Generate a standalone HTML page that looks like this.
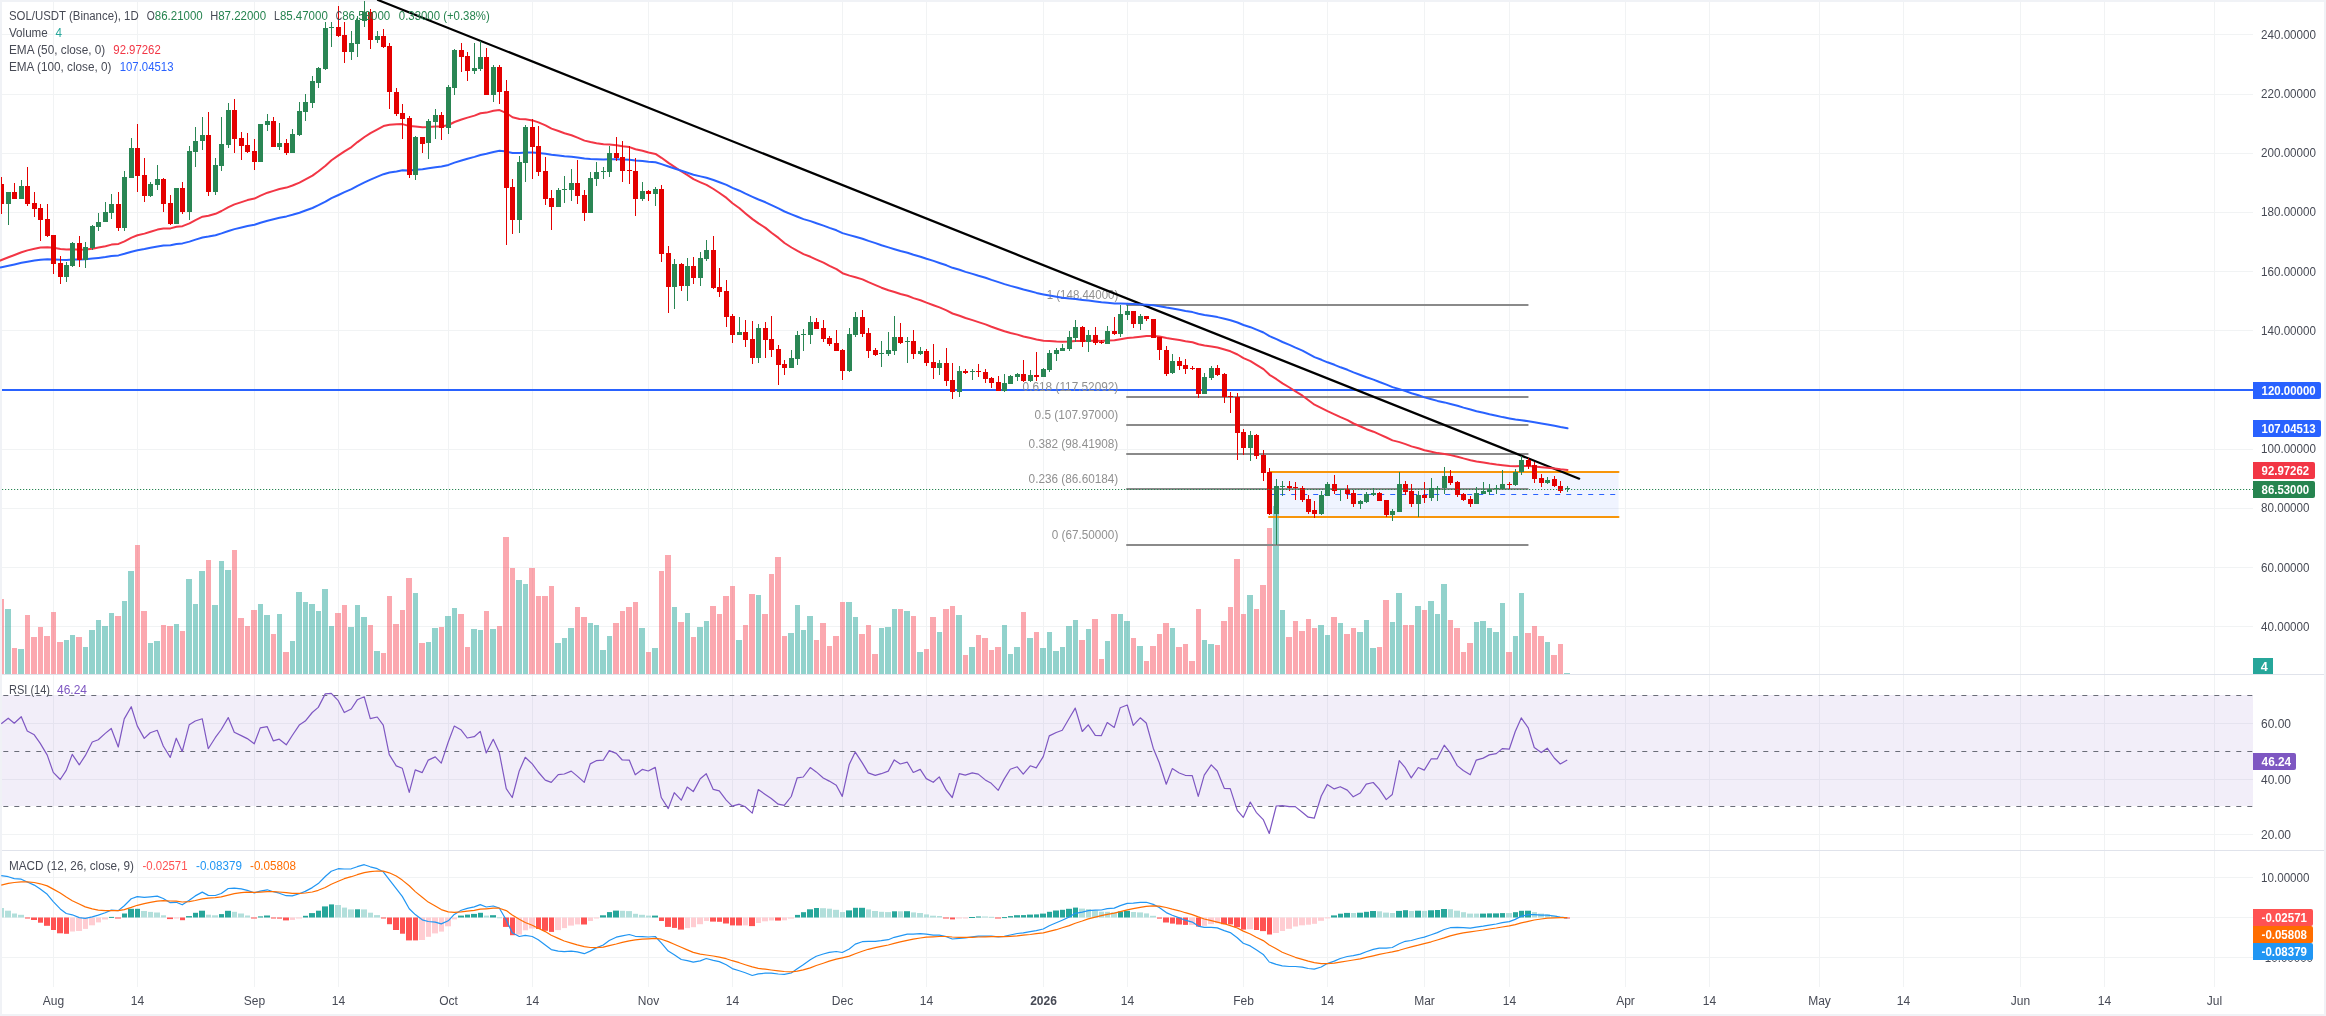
<!DOCTYPE html>
<html><head><meta charset="utf-8"><title>SOL/USDT</title>
<style>html,body{margin:0;padding:0;background:#fff;overflow:hidden}svg{will-change:transform}svg text{white-space:pre}</style></head>
<body>
<svg width="2326" height="1016" viewBox="0 0 2326 1016" style="display:block" font-family="'Liberation Sans', sans-serif" font-size="12">
<rect width="2326" height="1016" fill="#f0f2f6"/>
<rect x="2" y="2" width="2322" height="1012" fill="#fff"/>
<g fill="#f1f3f4"><rect x="53" y="2" width="1" height="985"/><rect x="137" y="2" width="1" height="985"/><rect x="254" y="2" width="1" height="985"/><rect x="338" y="2" width="1" height="985"/><rect x="448" y="2" width="1" height="985"/><rect x="532" y="2" width="1" height="985"/><rect x="648" y="2" width="1" height="985"/><rect x="732" y="2" width="1" height="985"/><rect x="842" y="2" width="1" height="985"/><rect x="926" y="2" width="1" height="985"/><rect x="1043" y="2" width="1" height="985"/><rect x="1127" y="2" width="1" height="985"/><rect x="1243" y="2" width="1" height="985"/><rect x="1327" y="2" width="1" height="985"/><rect x="1424" y="2" width="1" height="985"/><rect x="1509" y="2" width="1" height="985"/><rect x="1625" y="2" width="1" height="985"/><rect x="1709" y="2" width="1" height="985"/><rect x="1819" y="2" width="1" height="985"/><rect x="1903" y="2" width="1" height="985"/><rect x="2020" y="2" width="1" height="985"/><rect x="2104" y="2" width="1" height="985"/><rect x="2214" y="2" width="1" height="985"/><rect x="2" y="34" width="2251" height="1"/><rect x="2" y="94" width="2251" height="1"/><rect x="2" y="153" width="2251" height="1"/><rect x="2" y="212" width="2251" height="1"/><rect x="2" y="271" width="2251" height="1"/><rect x="2" y="330" width="2251" height="1"/><rect x="2" y="390" width="2251" height="1"/><rect x="2" y="449" width="2251" height="1"/><rect x="2" y="508" width="2251" height="1"/><rect x="2" y="567" width="2251" height="1"/><rect x="2" y="626" width="2251" height="1"/><rect x="2" y="723" width="2251" height="1"/><rect x="2" y="779" width="2251" height="1"/><rect x="2" y="834" width="2251" height="1"/><rect x="2" y="877" width="2251" height="1"/><rect x="2" y="917" width="2251" height="1"/><rect x="2" y="957" width="2251" height="1"/></g>
<rect x="2" y="674" width="2322" height="1" fill="#e0e3eb"/>
<rect x="2" y="850" width="2322" height="1" fill="#e0e3eb"/>
<g fill-opacity="0.5"><rect x="2" y="599" width="2" height="75" fill="#f7525f"/><rect x="5" y="609" width="6" height="65" fill="#26a69a"/><rect x="12" y="648" width="5" height="26" fill="#f7525f"/><rect x="18" y="649" width="6" height="25" fill="#26a69a"/><rect x="25" y="615" width="5" height="59" fill="#f7525f"/><rect x="31" y="637" width="6" height="37" fill="#f7525f"/><rect x="38" y="627" width="5" height="47" fill="#f7525f"/><rect x="44" y="636" width="6" height="38" fill="#f7525f"/><rect x="51" y="612" width="5" height="62" fill="#f7525f"/><rect x="57" y="642" width="6" height="32" fill="#f7525f"/><rect x="64" y="640" width="5" height="34" fill="#26a69a"/><rect x="70" y="635" width="5" height="39" fill="#26a69a"/><rect x="76" y="637" width="6" height="37" fill="#f7525f"/><rect x="83" y="647" width="5" height="27" fill="#26a69a"/><rect x="89" y="630" width="6" height="44" fill="#26a69a"/><rect x="96" y="620" width="5" height="54" fill="#26a69a"/><rect x="102" y="626" width="6" height="48" fill="#26a69a"/><rect x="109" y="613" width="5" height="61" fill="#26a69a"/><rect x="115" y="616" width="6" height="58" fill="#f7525f"/><rect x="122" y="601" width="5" height="73" fill="#26a69a"/><rect x="128" y="571" width="6" height="103" fill="#26a69a"/><rect x="135" y="545" width="5" height="129" fill="#f7525f"/><rect x="141" y="611" width="6" height="63" fill="#f7525f"/><rect x="148" y="643" width="5" height="31" fill="#26a69a"/><rect x="154" y="641" width="6" height="33" fill="#26a69a"/><rect x="161" y="625" width="5" height="49" fill="#f7525f"/><rect x="167" y="626" width="6" height="48" fill="#f7525f"/><rect x="174" y="624" width="5" height="50" fill="#26a69a"/><rect x="180" y="631" width="5" height="43" fill="#f7525f"/><rect x="186" y="579" width="6" height="95" fill="#26a69a"/><rect x="193" y="604" width="5" height="70" fill="#26a69a"/><rect x="199" y="571" width="6" height="103" fill="#26a69a"/><rect x="206" y="560" width="5" height="114" fill="#f7525f"/><rect x="212" y="605" width="6" height="69" fill="#26a69a"/><rect x="219" y="561" width="5" height="113" fill="#26a69a"/><rect x="225" y="570" width="6" height="104" fill="#26a69a"/><rect x="232" y="550" width="5" height="124" fill="#f7525f"/><rect x="238" y="618" width="6" height="56" fill="#f7525f"/><rect x="245" y="626" width="5" height="48" fill="#f7525f"/><rect x="251" y="610" width="6" height="64" fill="#f7525f"/><rect x="258" y="604" width="5" height="70" fill="#26a69a"/><rect x="264" y="615" width="6" height="59" fill="#26a69a"/><rect x="271" y="634" width="5" height="40" fill="#f7525f"/><rect x="277" y="614" width="5" height="60" fill="#26a69a"/><rect x="283" y="652" width="6" height="22" fill="#f7525f"/><rect x="290" y="641" width="5" height="33" fill="#26a69a"/><rect x="296" y="592" width="6" height="82" fill="#26a69a"/><rect x="303" y="602" width="5" height="72" fill="#26a69a"/><rect x="309" y="604" width="6" height="70" fill="#26a69a"/><rect x="316" y="611" width="5" height="63" fill="#26a69a"/><rect x="322" y="589" width="6" height="85" fill="#26a69a"/><rect x="329" y="626" width="5" height="48" fill="#26a69a"/><rect x="335" y="613" width="6" height="61" fill="#f7525f"/><rect x="342" y="605" width="5" height="69" fill="#f7525f"/><rect x="348" y="627" width="6" height="47" fill="#26a69a"/><rect x="355" y="605" width="5" height="69" fill="#26a69a"/><rect x="361" y="617" width="6" height="57" fill="#26a69a"/><rect x="368" y="625" width="5" height="49" fill="#f7525f"/><rect x="374" y="651" width="6" height="23" fill="#26a69a"/><rect x="381" y="653" width="5" height="21" fill="#f7525f"/><rect x="387" y="596" width="5" height="78" fill="#f7525f"/><rect x="393" y="624" width="6" height="50" fill="#f7525f"/><rect x="400" y="610" width="5" height="64" fill="#f7525f"/><rect x="406" y="578" width="6" height="96" fill="#f7525f"/><rect x="413" y="593" width="5" height="81" fill="#26a69a"/><rect x="419" y="643" width="6" height="31" fill="#f7525f"/><rect x="426" y="642" width="5" height="32" fill="#26a69a"/><rect x="432" y="628" width="6" height="46" fill="#26a69a"/><rect x="439" y="627" width="5" height="47" fill="#f7525f"/><rect x="445" y="616" width="6" height="58" fill="#26a69a"/><rect x="452" y="608" width="5" height="66" fill="#26a69a"/><rect x="458" y="614" width="6" height="60" fill="#f7525f"/><rect x="465" y="647" width="5" height="27" fill="#f7525f"/><rect x="471" y="629" width="6" height="45" fill="#26a69a"/><rect x="478" y="630" width="5" height="44" fill="#26a69a"/><rect x="484" y="611" width="5" height="63" fill="#f7525f"/><rect x="490" y="629" width="6" height="45" fill="#26a69a"/><rect x="497" y="626" width="5" height="48" fill="#f7525f"/><rect x="503" y="537" width="6" height="137" fill="#f7525f"/><rect x="510" y="568" width="5" height="106" fill="#f7525f"/><rect x="516" y="580" width="6" height="94" fill="#26a69a"/><rect x="523" y="584" width="5" height="90" fill="#26a69a"/><rect x="529" y="568" width="6" height="106" fill="#f7525f"/><rect x="536" y="596" width="5" height="78" fill="#f7525f"/><rect x="542" y="596" width="6" height="78" fill="#f7525f"/><rect x="549" y="586" width="5" height="88" fill="#f7525f"/><rect x="555" y="643" width="6" height="31" fill="#26a69a"/><rect x="562" y="638" width="5" height="36" fill="#26a69a"/><rect x="568" y="628" width="6" height="46" fill="#26a69a"/><rect x="575" y="607" width="5" height="67" fill="#f7525f"/><rect x="581" y="617" width="6" height="57" fill="#f7525f"/><rect x="588" y="623" width="5" height="51" fill="#26a69a"/><rect x="594" y="625" width="5" height="49" fill="#26a69a"/><rect x="600" y="650" width="6" height="24" fill="#26a69a"/><rect x="607" y="636" width="5" height="38" fill="#26a69a"/><rect x="613" y="623" width="6" height="51" fill="#f7525f"/><rect x="620" y="611" width="5" height="63" fill="#f7525f"/><rect x="626" y="607" width="6" height="67" fill="#f7525f"/><rect x="633" y="602" width="5" height="72" fill="#f7525f"/><rect x="639" y="628" width="6" height="46" fill="#26a69a"/><rect x="646" y="652" width="5" height="22" fill="#f7525f"/><rect x="652" y="648" width="6" height="26" fill="#26a69a"/><rect x="659" y="571" width="5" height="103" fill="#f7525f"/><rect x="665" y="555" width="6" height="119" fill="#f7525f"/><rect x="672" y="607" width="5" height="67" fill="#26a69a"/><rect x="678" y="622" width="6" height="52" fill="#f7525f"/><rect x="685" y="613" width="5" height="61" fill="#26a69a"/><rect x="691" y="637" width="5" height="37" fill="#f7525f"/><rect x="697" y="627" width="6" height="47" fill="#26a69a"/><rect x="704" y="621" width="5" height="53" fill="#26a69a"/><rect x="710" y="606" width="6" height="68" fill="#f7525f"/><rect x="717" y="614" width="5" height="60" fill="#f7525f"/><rect x="723" y="596" width="6" height="78" fill="#f7525f"/><rect x="730" y="586" width="5" height="88" fill="#f7525f"/><rect x="736" y="640" width="6" height="34" fill="#26a69a"/><rect x="743" y="625" width="5" height="49" fill="#f7525f"/><rect x="749" y="594" width="6" height="80" fill="#f7525f"/><rect x="756" y="595" width="5" height="79" fill="#26a69a"/><rect x="762" y="614" width="6" height="60" fill="#f7525f"/><rect x="769" y="574" width="5" height="100" fill="#f7525f"/><rect x="775" y="557" width="6" height="117" fill="#f7525f"/><rect x="782" y="636" width="5" height="38" fill="#f7525f"/><rect x="788" y="633" width="6" height="41" fill="#26a69a"/><rect x="795" y="605" width="5" height="69" fill="#26a69a"/><rect x="801" y="630" width="5" height="44" fill="#26a69a"/><rect x="807" y="616" width="6" height="58" fill="#26a69a"/><rect x="814" y="640" width="5" height="34" fill="#f7525f"/><rect x="820" y="623" width="6" height="51" fill="#f7525f"/><rect x="827" y="646" width="5" height="28" fill="#f7525f"/><rect x="833" y="636" width="6" height="38" fill="#f7525f"/><rect x="840" y="602" width="5" height="72" fill="#f7525f"/><rect x="846" y="602" width="6" height="72" fill="#26a69a"/><rect x="853" y="617" width="5" height="57" fill="#26a69a"/><rect x="859" y="634" width="6" height="40" fill="#f7525f"/><rect x="866" y="625" width="5" height="49" fill="#f7525f"/><rect x="872" y="654" width="6" height="20" fill="#f7525f"/><rect x="879" y="628" width="5" height="46" fill="#26a69a"/><rect x="885" y="627" width="6" height="47" fill="#26a69a"/><rect x="892" y="609" width="5" height="65" fill="#26a69a"/><rect x="898" y="609" width="5" height="65" fill="#f7525f"/><rect x="904" y="611" width="6" height="63" fill="#26a69a"/><rect x="911" y="616" width="5" height="58" fill="#f7525f"/><rect x="917" y="652" width="6" height="22" fill="#26a69a"/><rect x="924" y="649" width="5" height="25" fill="#f7525f"/><rect x="930" y="617" width="6" height="57" fill="#f7525f"/><rect x="937" y="632" width="5" height="42" fill="#26a69a"/><rect x="943" y="609" width="6" height="65" fill="#f7525f"/><rect x="950" y="606" width="5" height="68" fill="#f7525f"/><rect x="956" y="615" width="6" height="59" fill="#26a69a"/><rect x="963" y="655" width="5" height="19" fill="#f7525f"/><rect x="969" y="647" width="6" height="27" fill="#26a69a"/><rect x="976" y="635" width="5" height="39" fill="#f7525f"/><rect x="982" y="638" width="6" height="36" fill="#f7525f"/><rect x="989" y="650" width="5" height="24" fill="#f7525f"/><rect x="995" y="647" width="6" height="27" fill="#f7525f"/><rect x="1002" y="625" width="5" height="49" fill="#26a69a"/><rect x="1008" y="654" width="5" height="20" fill="#26a69a"/><rect x="1014" y="647" width="6" height="27" fill="#26a69a"/><rect x="1021" y="612" width="5" height="62" fill="#f7525f"/><rect x="1027" y="638" width="6" height="36" fill="#26a69a"/><rect x="1034" y="632" width="5" height="42" fill="#f7525f"/><rect x="1040" y="648" width="6" height="26" fill="#26a69a"/><rect x="1047" y="632" width="5" height="42" fill="#26a69a"/><rect x="1053" y="651" width="6" height="23" fill="#26a69a"/><rect x="1060" y="647" width="5" height="27" fill="#26a69a"/><rect x="1066" y="626" width="6" height="48" fill="#26a69a"/><rect x="1073" y="620" width="5" height="54" fill="#26a69a"/><rect x="1079" y="640" width="6" height="34" fill="#f7525f"/><rect x="1086" y="629" width="5" height="45" fill="#26a69a"/><rect x="1092" y="619" width="6" height="55" fill="#f7525f"/><rect x="1099" y="659" width="5" height="15" fill="#f7525f"/><rect x="1105" y="641" width="5" height="33" fill="#26a69a"/><rect x="1111" y="614" width="6" height="60" fill="#f7525f"/><rect x="1118" y="614" width="5" height="60" fill="#26a69a"/><rect x="1124" y="621" width="6" height="53" fill="#26a69a"/><rect x="1131" y="638" width="5" height="36" fill="#f7525f"/><rect x="1137" y="646" width="6" height="28" fill="#26a69a"/><rect x="1144" y="661" width="5" height="13" fill="#f7525f"/><rect x="1150" y="646" width="6" height="28" fill="#f7525f"/><rect x="1157" y="634" width="5" height="40" fill="#f7525f"/><rect x="1163" y="623" width="6" height="51" fill="#f7525f"/><rect x="1170" y="628" width="5" height="46" fill="#26a69a"/><rect x="1176" y="647" width="6" height="27" fill="#f7525f"/><rect x="1183" y="644" width="5" height="30" fill="#f7525f"/><rect x="1189" y="661" width="6" height="13" fill="#f7525f"/><rect x="1196" y="609" width="5" height="65" fill="#f7525f"/><rect x="1202" y="640" width="5" height="34" fill="#26a69a"/><rect x="1208" y="644" width="6" height="30" fill="#26a69a"/><rect x="1215" y="645" width="5" height="29" fill="#f7525f"/><rect x="1221" y="621" width="6" height="53" fill="#f7525f"/><rect x="1228" y="607" width="5" height="67" fill="#f7525f"/><rect x="1234" y="559" width="6" height="115" fill="#f7525f"/><rect x="1241" y="614" width="5" height="60" fill="#f7525f"/><rect x="1247" y="595" width="6" height="79" fill="#26a69a"/><rect x="1254" y="609" width="5" height="65" fill="#f7525f"/><rect x="1260" y="585" width="6" height="89" fill="#f7525f"/><rect x="1267" y="528" width="5" height="146" fill="#f7525f"/><rect x="1273" y="506" width="6" height="168" fill="#26a69a"/><rect x="1280" y="610" width="5" height="64" fill="#26a69a"/><rect x="1286" y="637" width="6" height="37" fill="#f7525f"/><rect x="1293" y="621" width="5" height="53" fill="#f7525f"/><rect x="1299" y="631" width="6" height="43" fill="#f7525f"/><rect x="1306" y="619" width="5" height="55" fill="#f7525f"/><rect x="1312" y="628" width="5" height="46" fill="#f7525f"/><rect x="1318" y="625" width="6" height="49" fill="#26a69a"/><rect x="1325" y="635" width="5" height="39" fill="#26a69a"/><rect x="1331" y="617" width="6" height="57" fill="#f7525f"/><rect x="1338" y="623" width="5" height="51" fill="#26a69a"/><rect x="1344" y="634" width="6" height="40" fill="#f7525f"/><rect x="1351" y="628" width="5" height="46" fill="#f7525f"/><rect x="1357" y="632" width="6" height="42" fill="#26a69a"/><rect x="1364" y="620" width="5" height="54" fill="#26a69a"/><rect x="1370" y="648" width="6" height="26" fill="#26a69a"/><rect x="1377" y="647" width="5" height="27" fill="#f7525f"/><rect x="1383" y="600" width="6" height="74" fill="#f7525f"/><rect x="1390" y="622" width="5" height="52" fill="#26a69a"/><rect x="1396" y="593" width="6" height="81" fill="#26a69a"/><rect x="1403" y="625" width="5" height="49" fill="#f7525f"/><rect x="1409" y="625" width="5" height="49" fill="#f7525f"/><rect x="1415" y="606" width="6" height="68" fill="#26a69a"/><rect x="1422" y="610" width="5" height="64" fill="#f7525f"/><rect x="1428" y="601" width="6" height="73" fill="#26a69a"/><rect x="1435" y="614" width="5" height="60" fill="#26a69a"/><rect x="1441" y="584" width="6" height="90" fill="#26a69a"/><rect x="1448" y="620" width="5" height="54" fill="#f7525f"/><rect x="1454" y="628" width="6" height="46" fill="#f7525f"/><rect x="1461" y="652" width="5" height="22" fill="#f7525f"/><rect x="1467" y="643" width="6" height="31" fill="#f7525f"/><rect x="1474" y="622" width="5" height="52" fill="#26a69a"/><rect x="1480" y="621" width="6" height="53" fill="#26a69a"/><rect x="1487" y="628" width="5" height="46" fill="#26a69a"/><rect x="1493" y="632" width="6" height="42" fill="#26a69a"/><rect x="1500" y="603" width="5" height="71" fill="#26a69a"/><rect x="1506" y="652" width="6" height="22" fill="#f7525f"/><rect x="1513" y="636" width="5" height="38" fill="#26a69a"/><rect x="1519" y="593" width="5" height="81" fill="#26a69a"/><rect x="1525" y="633" width="6" height="41" fill="#f7525f"/><rect x="1532" y="626" width="5" height="48" fill="#f7525f"/><rect x="1538" y="636" width="6" height="38" fill="#f7525f"/><rect x="1545" y="642" width="5" height="32" fill="#26a69a"/><rect x="1551" y="655" width="6" height="19" fill="#f7525f"/><rect x="1558" y="644" width="5" height="30" fill="#f7525f"/><rect x="1564" y="673" width="6" height="1" fill="#26a69a"/></g>
<rect x="1270" y="472" width="348.6" height="45" fill="#2962ff" fill-opacity="0.07"/>
<line x1="1270" y1="472.1" x2="1618.5" y2="472.1" stroke="#f7950a" stroke-width="2" stroke-linecap="round"/>
<line x1="1269" y1="517" x2="1618.5" y2="517" stroke="#f7950a" stroke-width="2" stroke-linecap="round"/>
<line x1="1269.2" y1="494.5" x2="1619" y2="494.5" stroke="#2962ff" stroke-width="1.2" stroke-dasharray="5 6"/>
<rect x="2" y="389" width="2251" height="2" fill="#2962ff"/>
<line x1="1127" y1="305.0" x2="1527.7" y2="305.0" stroke="#8a8a8a" stroke-width="2" stroke-linecap="round"/>
<line x1="1127" y1="397.0" x2="1527.7" y2="397.0" stroke="#8a8a8a" stroke-width="2" stroke-linecap="round"/>
<line x1="1127" y1="425.0" x2="1527.7" y2="425.0" stroke="#8a8a8a" stroke-width="2" stroke-linecap="round"/>
<line x1="1127" y1="454.0" x2="1527.7" y2="454.0" stroke="#8a8a8a" stroke-width="2" stroke-linecap="round"/>
<line x1="1127" y1="489.0" x2="1527.7" y2="489.0" stroke="#8a8a8a" stroke-width="2" stroke-linecap="round"/>
<line x1="1127" y1="545.0" x2="1527.7" y2="545.0" stroke="#8a8a8a" stroke-width="2" stroke-linecap="round"/>
<text x="1046.7" y="298.7" fill="#909090" textLength="71.6" lengthAdjust="spacingAndGlyphs">1 (148.44000)</text>
<text x="1022.6" y="390.7" fill="#909090" textLength="95.7" lengthAdjust="spacingAndGlyphs">0.618 (117.52092)</text>
<text x="1034.6" y="418.7" fill="#909090" textLength="83.7" lengthAdjust="spacingAndGlyphs">0.5 (107.97000)</text>
<text x="1028.6" y="447.7" fill="#909090" textLength="89.7" lengthAdjust="spacingAndGlyphs">0.382 (98.41908)</text>
<text x="1028.6" y="482.7" fill="#909090" textLength="89.7" lengthAdjust="spacingAndGlyphs">0.236 (86.60184)</text>
<text x="1051.8" y="538.7" fill="#909090" textLength="66.5" lengthAdjust="spacingAndGlyphs">0 (67.50000)</text>
<line x1="378.0" y1="0" x2="1579.2" y2="478.65" stroke="#000" stroke-width="2.2" stroke-linecap="round"/>
<polyline points="-5.0,262.6 1.5,260.0 8.5,257.3 14.5,255.0 21.5,252.3 27.5,250.4 34.5,248.8 40.5,247.6 47.5,247.2 53.5,247.8 60.5,248.9 66.5,249.6 72.5,249.3 79.5,249.7 85.5,249.6 92.5,248.7 98.5,247.6 105.5,246.2 111.5,244.6 118.5,243.9 124.5,241.3 131.5,237.6 137.5,235.2 144.5,233.6 150.5,231.7 157.5,229.6 163.5,228.6 170.5,228.4 176.5,226.8 182.5,226.2 189.5,223.3 195.5,220.1 202.5,216.7 208.5,215.7 215.5,213.8 221.5,211.0 228.5,207.1 234.5,204.4 241.5,202.1 247.5,200.1 254.5,198.6 260.5,195.6 267.5,192.7 273.5,190.9 279.5,189.0 286.5,187.6 292.5,185.5 299.5,182.6 305.5,179.4 312.5,175.6 318.5,171.3 325.5,165.7 331.5,160.3 338.5,155.4 344.5,151.3 351.5,147.1 357.5,142.1 364.5,137.0 370.5,133.1 377.5,129.3 383.5,126.1 389.5,124.8 396.5,124.3 402.5,124.1 409.5,126.1 415.5,126.5 422.5,127.2 428.5,127.0 435.5,126.5 441.5,126.5 448.5,125.0 454.5,122.0 461.5,119.5 467.5,117.6 474.5,115.6 480.5,113.3 486.5,112.6 493.5,110.8 499.5,110.1 506.5,113.1 512.5,117.3 519.5,119.0 525.5,119.3 532.5,120.4 538.5,122.4 545.5,125.4 551.5,128.6 558.5,131.0 564.5,133.3 571.5,135.2 577.5,137.6 584.5,140.6 590.5,142.0 596.5,143.2 603.5,144.3 609.5,144.6 616.5,145.2 622.5,146.2 629.5,147.1 635.5,149.2 642.5,150.8 648.5,152.5 655.5,153.9 661.5,157.8 668.5,162.9 674.5,166.8 681.5,171.5 687.5,175.2 693.5,179.2 700.5,182.3 706.5,184.9 713.5,189.0 719.5,193.0 726.5,197.9 732.5,203.2 739.5,208.3 745.5,213.4 752.5,219.1 758.5,223.4 765.5,227.9 771.5,232.7 778.5,237.9 784.5,243.0 791.5,247.5 797.5,250.9 803.5,254.1 810.5,256.8 816.5,259.6 823.5,262.7 829.5,265.9 836.5,269.2 842.5,273.2 849.5,275.6 855.5,277.2 862.5,279.4 868.5,282.2 875.5,285.1 881.5,287.7 888.5,290.2 894.5,292.0 900.5,294.0 907.5,295.8 913.5,298.1 920.5,300.2 926.5,302.6 933.5,305.2 939.5,307.4 946.5,310.3 952.5,313.5 959.5,315.8 965.5,318.0 972.5,320.1 978.5,322.1 985.5,324.4 991.5,326.7 998.5,329.2 1004.5,331.3 1010.5,333.0 1017.5,334.6 1023.5,336.5 1030.5,338.0 1036.5,339.5 1043.5,340.7 1049.5,341.1 1056.5,341.5 1062.5,341.7 1069.5,341.6 1075.5,341.0 1082.5,341.0 1088.5,340.8 1095.5,340.8 1101.5,340.9 1107.5,340.5 1114.5,340.3 1120.5,339.2 1127.5,338.1 1133.5,337.6 1140.5,336.7 1146.5,336.0 1153.5,336.1 1159.5,336.6 1166.5,338.1 1172.5,339.0 1179.5,340.1 1185.5,341.2 1192.5,342.3 1198.5,344.3 1204.5,345.6 1211.5,346.4 1217.5,347.5 1224.5,349.5 1230.5,351.3 1237.5,354.5 1243.5,358.2 1250.5,361.2 1256.5,364.9 1263.5,369.1 1269.5,374.8 1276.5,379.2 1282.5,383.4 1289.5,387.5 1295.5,391.4 1302.5,395.7 1308.5,400.2 1314.5,404.7 1321.5,408.2 1327.5,411.2 1334.5,414.3 1340.5,417.2 1347.5,420.2 1353.5,423.5 1360.5,426.5 1366.5,429.2 1373.5,431.7 1379.5,434.4 1386.5,437.5 1392.5,440.4 1399.5,442.1 1405.5,444.1 1411.5,446.4 1418.5,448.3 1424.5,450.2 1431.5,451.7 1437.5,453.1 1444.5,454.0 1450.5,455.1 1457.5,456.7 1463.5,458.4 1470.5,460.2 1476.5,461.4 1483.5,462.6 1489.5,463.6 1496.5,464.6 1502.5,465.3 1509.5,466.1 1515.5,466.3 1521.5,466.1 1528.5,466.1 1534.5,466.6 1541.5,467.2 1547.5,467.7 1554.5,468.4 1560.5,469.3 1567.5,470.0" fill="none" stroke="#f23645" stroke-width="2" stroke-linejoin="round" stroke-linecap="round"/>
<polyline points="-5.0,268.7 1.5,267.2 8.5,265.7 14.5,264.4 21.5,262.8 27.5,261.7 34.5,260.6 40.5,259.8 47.5,259.3 53.5,259.4 60.5,259.8 66.5,259.9 72.5,259.5 79.5,259.5 85.5,259.3 92.5,258.6 98.5,257.9 105.5,257.0 111.5,255.9 118.5,255.4 124.5,253.8 131.5,251.7 137.5,250.2 144.5,249.1 150.5,247.8 157.5,246.5 163.5,245.6 170.5,245.2 176.5,244.1 182.5,243.4 189.5,241.6 195.5,239.6 202.5,237.5 208.5,236.6 215.5,235.2 221.5,233.4 228.5,231.0 234.5,229.1 241.5,227.5 247.5,226.0 254.5,224.7 260.5,222.7 267.5,220.7 273.5,219.2 279.5,217.7 286.5,216.4 292.5,214.8 299.5,212.7 305.5,210.5 312.5,208.0 318.5,205.2 325.5,201.7 331.5,198.2 338.5,195.0 344.5,192.2 351.5,189.2 357.5,185.9 364.5,182.4 370.5,179.6 377.5,176.7 383.5,174.2 389.5,172.5 396.5,171.4 402.5,170.3 409.5,170.4 415.5,169.8 422.5,169.2 428.5,168.3 435.5,167.2 441.5,166.4 448.5,164.9 454.5,162.6 461.5,160.5 467.5,158.7 474.5,156.9 480.5,155.0 486.5,153.8 493.5,152.0 499.5,150.8 506.5,151.6 512.5,152.9 519.5,153.1 525.5,152.6 532.5,152.5 538.5,152.9 545.5,153.8 551.5,154.8 558.5,155.5 564.5,156.2 571.5,156.7 577.5,157.5 584.5,158.6 590.5,159.0 596.5,159.2 603.5,159.5 609.5,159.3 616.5,159.3 622.5,159.5 629.5,159.7 635.5,160.5 642.5,161.1 648.5,161.8 655.5,162.3 661.5,164.1 668.5,166.5 674.5,168.5 681.5,170.8 687.5,172.7 693.5,174.7 700.5,176.4 706.5,177.8 713.5,180.0 719.5,182.2 726.5,184.9 732.5,187.9 739.5,190.7 745.5,193.7 752.5,196.9 758.5,199.5 765.5,202.3 771.5,205.2 778.5,208.4 784.5,211.5 791.5,214.4 797.5,216.8 803.5,219.1 810.5,221.1 816.5,223.3 823.5,225.6 829.5,227.9 836.5,230.3 842.5,233.1 849.5,235.1 855.5,236.7 862.5,238.7 868.5,240.9 875.5,243.1 881.5,245.3 888.5,247.4 894.5,249.2 900.5,251.0 907.5,252.8 913.5,254.8 920.5,256.7 926.5,258.8 933.5,260.9 939.5,263.0 946.5,265.3 952.5,267.8 959.5,269.8 965.5,271.9 972.5,273.9 978.5,275.8 985.5,277.8 991.5,279.9 998.5,282.1 1004.5,284.1 1010.5,285.9 1017.5,287.7 1023.5,289.5 1030.5,291.2 1036.5,292.9 1043.5,294.4 1049.5,295.6 1056.5,296.7 1062.5,297.7 1069.5,298.5 1075.5,299.0 1082.5,299.9 1088.5,300.6 1095.5,301.4 1101.5,302.2 1107.5,302.8 1114.5,303.4 1120.5,303.6 1127.5,303.8 1133.5,304.1 1140.5,304.4 1146.5,304.7 1153.5,305.3 1159.5,306.2 1166.5,307.6 1172.5,308.6 1179.5,309.7 1185.5,310.9 1192.5,312.1 1198.5,313.7 1204.5,314.9 1211.5,316.0 1217.5,317.1 1224.5,318.7 1230.5,320.3 1237.5,322.5 1243.5,325.0 1250.5,327.2 1256.5,329.7 1263.5,332.5 1269.5,336.1 1276.5,339.1 1282.5,342.0 1289.5,344.9 1295.5,347.7 1302.5,350.7 1308.5,353.9 1314.5,357.1 1321.5,359.8 1327.5,362.3 1334.5,364.8 1340.5,367.3 1347.5,369.8 1353.5,372.4 1360.5,375.0 1366.5,377.3 1373.5,379.6 1379.5,382.0 1386.5,384.6 1392.5,387.1 1399.5,389.1 1405.5,391.1 1411.5,393.3 1418.5,395.3 1424.5,397.4 1431.5,399.2 1437.5,400.9 1444.5,402.4 1450.5,404.0 1457.5,405.8 1463.5,407.6 1470.5,409.5 1476.5,411.2 1483.5,412.8 1489.5,414.3 1496.5,415.7 1502.5,417.1 1509.5,418.4 1515.5,419.5 1521.5,420.3 1528.5,421.2 1534.5,422.3 1541.5,423.5 1547.5,424.6 1554.5,425.8 1560.5,427.1 1567.5,428.3" fill="none" stroke="#2962ff" stroke-width="2" stroke-linejoin="round" stroke-linecap="round"/>
<g fill="#2a8654"><rect x="8" y="192" width="1" height="33"/><rect x="6" y="192" width="5" height="12"/><rect x="21" y="180" width="1" height="19"/><rect x="19" y="186" width="5" height="13"/><rect x="66" y="262" width="1" height="20"/><rect x="64" y="265" width="5" height="12"/><rect x="72" y="242" width="1" height="25"/><rect x="70" y="243" width="5" height="23"/><rect x="85" y="242" width="1" height="26"/><rect x="83" y="247" width="5" height="13"/><rect x="92" y="225" width="1" height="25"/><rect x="90" y="226" width="5" height="22"/><rect x="98" y="213" width="1" height="18"/><rect x="96" y="222" width="5" height="5"/><rect x="105" y="202" width="1" height="20"/><rect x="103" y="212" width="5" height="10"/><rect x="111" y="194" width="1" height="25"/><rect x="109" y="204" width="5" height="9"/><rect x="124" y="171" width="1" height="60"/><rect x="122" y="177" width="5" height="51"/><rect x="131" y="138" width="1" height="40"/><rect x="129" y="148" width="5" height="30"/><rect x="150" y="182" width="1" height="15"/><rect x="148" y="184" width="5" height="12"/><rect x="157" y="165" width="1" height="25"/><rect x="155" y="179" width="5" height="6"/><rect x="176" y="188" width="1" height="36"/><rect x="174" y="188" width="5" height="36"/><rect x="189" y="146" width="1" height="74"/><rect x="187" y="151" width="5" height="61"/><rect x="195" y="127" width="1" height="40"/><rect x="193" y="141" width="5" height="11"/><rect x="202" y="117" width="1" height="33"/><rect x="200" y="135" width="5" height="6"/><rect x="215" y="158" width="1" height="37"/><rect x="213" y="165" width="5" height="27"/><rect x="221" y="117" width="1" height="54"/><rect x="219" y="144" width="5" height="22"/><rect x="228" y="103" width="1" height="45"/><rect x="226" y="110" width="5" height="35"/><rect x="260" y="124" width="1" height="38"/><rect x="258" y="124" width="5" height="38"/><rect x="267" y="114" width="1" height="17"/><rect x="265" y="121" width="5" height="4"/><rect x="279" y="123" width="1" height="27"/><rect x="277" y="143" width="5" height="4"/><rect x="292" y="129" width="1" height="24"/><rect x="290" y="134" width="5" height="19"/><rect x="299" y="102" width="1" height="34"/><rect x="297" y="111" width="5" height="24"/><rect x="305" y="94" width="1" height="27"/><rect x="303" y="102" width="5" height="10"/><rect x="312" y="76" width="1" height="32"/><rect x="310" y="81" width="5" height="22"/><rect x="318" y="67" width="1" height="21"/><rect x="316" y="68" width="5" height="15"/><rect x="325" y="22" width="1" height="48"/><rect x="323" y="28" width="5" height="41"/><rect x="331" y="22" width="1" height="25"/><rect x="329" y="27" width="5" height="1"/><rect x="351" y="31" width="1" height="29"/><rect x="349" y="43" width="5" height="9"/><rect x="357" y="16" width="1" height="41"/><rect x="355" y="20" width="5" height="24"/><rect x="364" y="1" width="1" height="26"/><rect x="362" y="12" width="5" height="9"/><rect x="377" y="31" width="1" height="12"/><rect x="375" y="36" width="5" height="4"/><rect x="415" y="136" width="1" height="44"/><rect x="413" y="137" width="5" height="38"/><rect x="428" y="119" width="1" height="40"/><rect x="426" y="121" width="5" height="22"/><rect x="435" y="109" width="1" height="30"/><rect x="433" y="115" width="5" height="7"/><rect x="448" y="85" width="1" height="49"/><rect x="446" y="87" width="5" height="41"/><rect x="454" y="49" width="1" height="46"/><rect x="452" y="50" width="5" height="38"/><rect x="474" y="43" width="1" height="31"/><rect x="472" y="68" width="5" height="3"/><rect x="480" y="41" width="1" height="30"/><rect x="478" y="57" width="5" height="12"/><rect x="493" y="65" width="1" height="37"/><rect x="491" y="67" width="5" height="28"/><rect x="519" y="156" width="1" height="77"/><rect x="517" y="162" width="5" height="58"/><rect x="525" y="125" width="1" height="57"/><rect x="523" y="127" width="5" height="36"/><rect x="558" y="188" width="1" height="19"/><rect x="556" y="190" width="5" height="17"/><rect x="564" y="176" width="1" height="27"/><rect x="562" y="189" width="5" height="1"/><rect x="571" y="169" width="1" height="32"/><rect x="569" y="183" width="5" height="7"/><rect x="590" y="172" width="1" height="41"/><rect x="588" y="178" width="5" height="35"/><rect x="596" y="162" width="1" height="24"/><rect x="594" y="172" width="5" height="7"/><rect x="603" y="167" width="1" height="12"/><rect x="601" y="171" width="5" height="1"/><rect x="609" y="146" width="1" height="31"/><rect x="607" y="153" width="5" height="19"/><rect x="642" y="182" width="1" height="19"/><rect x="640" y="191" width="5" height="8"/><rect x="655" y="187" width="1" height="19"/><rect x="653" y="189" width="5" height="5"/><rect x="674" y="259" width="1" height="50"/><rect x="672" y="264" width="5" height="23"/><rect x="687" y="258" width="1" height="43"/><rect x="685" y="266" width="5" height="20"/><rect x="700" y="252" width="1" height="34"/><rect x="698" y="258" width="5" height="20"/><rect x="706" y="240" width="1" height="21"/><rect x="704" y="250" width="5" height="9"/><rect x="739" y="317" width="1" height="18"/><rect x="737" y="332" width="5" height="3"/><rect x="758" y="324" width="1" height="39"/><rect x="756" y="328" width="5" height="30"/><rect x="791" y="350" width="1" height="18"/><rect x="789" y="358" width="5" height="10"/><rect x="797" y="331" width="1" height="34"/><rect x="795" y="335" width="5" height="24"/><rect x="803" y="329" width="1" height="22"/><rect x="801" y="334" width="5" height="1"/><rect x="810" y="316" width="1" height="28"/><rect x="808" y="322" width="5" height="13"/><rect x="849" y="328" width="1" height="44"/><rect x="847" y="334" width="5" height="37"/><rect x="855" y="312" width="1" height="25"/><rect x="853" y="317" width="5" height="18"/><rect x="881" y="341" width="1" height="26"/><rect x="879" y="353" width="5" height="1"/><rect x="888" y="332" width="1" height="24"/><rect x="886" y="350" width="5" height="4"/><rect x="894" y="316" width="1" height="39"/><rect x="892" y="337" width="5" height="14"/><rect x="907" y="337" width="1" height="26"/><rect x="905" y="341" width="5" height="1"/><rect x="920" y="347" width="1" height="8"/><rect x="918" y="351" width="5" height="3"/><rect x="939" y="360" width="1" height="15"/><rect x="937" y="363" width="5" height="5"/><rect x="959" y="366" width="1" height="31"/><rect x="957" y="371" width="5" height="21"/><rect x="972" y="369" width="1" height="11"/><rect x="970" y="371" width="5" height="1"/><rect x="1004" y="374" width="1" height="18"/><rect x="1002" y="383" width="5" height="8"/><rect x="1010" y="375" width="1" height="9"/><rect x="1008" y="376" width="5" height="8"/><rect x="1017" y="373" width="1" height="8"/><rect x="1015" y="374" width="5" height="3"/><rect x="1030" y="370" width="1" height="12"/><rect x="1028" y="375" width="5" height="6"/><rect x="1043" y="368" width="1" height="9"/><rect x="1041" y="369" width="5" height="8"/><rect x="1049" y="350" width="1" height="22"/><rect x="1047" y="353" width="5" height="17"/><rect x="1056" y="348" width="1" height="13"/><rect x="1054" y="350" width="5" height="4"/><rect x="1062" y="344" width="1" height="7"/><rect x="1060" y="348" width="5" height="3"/><rect x="1069" y="331" width="1" height="20"/><rect x="1067" y="337" width="5" height="12"/><rect x="1075" y="320" width="1" height="22"/><rect x="1073" y="327" width="5" height="11"/><rect x="1088" y="330" width="1" height="22"/><rect x="1086" y="335" width="5" height="7"/><rect x="1107" y="326" width="1" height="18"/><rect x="1105" y="331" width="5" height="13"/><rect x="1120" y="305" width="1" height="32"/><rect x="1118" y="314" width="5" height="20"/><rect x="1127" y="305" width="1" height="15"/><rect x="1125" y="311" width="5" height="4"/><rect x="1140" y="314" width="1" height="16"/><rect x="1138" y="316" width="5" height="8"/><rect x="1172" y="354" width="1" height="20"/><rect x="1170" y="361" width="5" height="12"/><rect x="1204" y="373" width="1" height="21"/><rect x="1202" y="377" width="5" height="17"/><rect x="1211" y="366" width="1" height="14"/><rect x="1209" y="368" width="5" height="10"/><rect x="1250" y="431" width="1" height="30"/><rect x="1248" y="435" width="5" height="13"/><rect x="1276" y="479" width="1" height="66"/><rect x="1274" y="486" width="5" height="28"/><rect x="1282" y="481" width="1" height="15"/><rect x="1280" y="486" width="5" height="1"/><rect x="1321" y="491" width="1" height="24"/><rect x="1319" y="495" width="5" height="19"/><rect x="1327" y="482" width="1" height="14"/><rect x="1325" y="484" width="5" height="12"/><rect x="1340" y="489" width="1" height="12"/><rect x="1338" y="489" width="5" height="1"/><rect x="1360" y="500" width="1" height="9"/><rect x="1358" y="501" width="5" height="3"/><rect x="1366" y="492" width="1" height="11"/><rect x="1364" y="494" width="5" height="8"/><rect x="1373" y="488" width="1" height="8"/><rect x="1371" y="493" width="5" height="2"/><rect x="1392" y="509" width="1" height="12"/><rect x="1390" y="511" width="5" height="4"/><rect x="1399" y="472" width="1" height="40"/><rect x="1397" y="484" width="5" height="28"/><rect x="1418" y="491" width="1" height="26"/><rect x="1416" y="495" width="5" height="9"/><rect x="1431" y="478" width="1" height="23"/><rect x="1429" y="488" width="5" height="10"/><rect x="1437" y="486" width="1" height="15"/><rect x="1435" y="488" width="5" height="1"/><rect x="1444" y="467" width="1" height="27"/><rect x="1442" y="476" width="5" height="12"/><rect x="1476" y="487" width="1" height="17"/><rect x="1474" y="493" width="5" height="11"/><rect x="1483" y="482" width="1" height="12"/><rect x="1481" y="491" width="5" height="3"/><rect x="1489" y="484" width="1" height="11"/><rect x="1487" y="489" width="5" height="3"/><rect x="1496" y="485" width="1" height="9"/><rect x="1494" y="488" width="5" height="1"/><rect x="1502" y="470" width="1" height="19"/><rect x="1500" y="484" width="5" height="5"/><rect x="1515" y="469" width="1" height="17"/><rect x="1513" y="472" width="5" height="13"/><rect x="1521" y="456" width="1" height="19"/><rect x="1519" y="460" width="5" height="12"/><rect x="1547" y="477" width="1" height="7"/><rect x="1545" y="480" width="5" height="3"/><rect x="1567" y="486" width="1" height="6"/><rect x="1565" y="488" width="5" height="1"/></g>
<g fill="#e40000"><rect x="1" y="177" width="1" height="37"/><rect x="2" y="184" width="2" height="20"/><rect x="14" y="183" width="1" height="16"/><rect x="12" y="192" width="5" height="7"/><rect x="27" y="167" width="1" height="39"/><rect x="25" y="186" width="5" height="18"/><rect x="34" y="192" width="1" height="25"/><rect x="32" y="203" width="5" height="6"/><rect x="40" y="204" width="1" height="37"/><rect x="38" y="208" width="5" height="12"/><rect x="47" y="204" width="1" height="33"/><rect x="45" y="219" width="5" height="17"/><rect x="53" y="235" width="1" height="39"/><rect x="51" y="235" width="5" height="29"/><rect x="60" y="256" width="1" height="28"/><rect x="58" y="263" width="5" height="14"/><rect x="79" y="236" width="1" height="31"/><rect x="77" y="243" width="5" height="17"/><rect x="118" y="192" width="1" height="39"/><rect x="116" y="204" width="5" height="24"/><rect x="137" y="124" width="1" height="68"/><rect x="135" y="148" width="5" height="28"/><rect x="144" y="158" width="1" height="44"/><rect x="142" y="175" width="5" height="21"/><rect x="163" y="178" width="1" height="34"/><rect x="161" y="179" width="5" height="25"/><rect x="170" y="195" width="1" height="30"/><rect x="168" y="203" width="5" height="21"/><rect x="182" y="182" width="1" height="32"/><rect x="180" y="188" width="5" height="24"/><rect x="208" y="112" width="1" height="84"/><rect x="206" y="135" width="5" height="57"/><rect x="234" y="99" width="1" height="54"/><rect x="232" y="110" width="5" height="29"/><rect x="241" y="132" width="1" height="28"/><rect x="239" y="138" width="5" height="8"/><rect x="247" y="133" width="1" height="20"/><rect x="245" y="145" width="5" height="7"/><rect x="254" y="139" width="1" height="31"/><rect x="252" y="151" width="5" height="11"/><rect x="273" y="117" width="1" height="30"/><rect x="271" y="121" width="5" height="26"/><rect x="286" y="139" width="1" height="16"/><rect x="284" y="143" width="5" height="10"/><rect x="338" y="6" width="1" height="31"/><rect x="336" y="27" width="5" height="9"/><rect x="344" y="22" width="1" height="41"/><rect x="342" y="35" width="5" height="17"/><rect x="370" y="9" width="1" height="40"/><rect x="368" y="12" width="5" height="28"/><rect x="383" y="29" width="1" height="19"/><rect x="381" y="36" width="5" height="11"/><rect x="389" y="43" width="1" height="66"/><rect x="387" y="46" width="5" height="46"/><rect x="396" y="88" width="1" height="28"/><rect x="394" y="92" width="5" height="22"/><rect x="402" y="104" width="1" height="35"/><rect x="400" y="113" width="5" height="6"/><rect x="409" y="116" width="1" height="62"/><rect x="407" y="118" width="5" height="57"/><rect x="422" y="137" width="1" height="16"/><rect x="420" y="137" width="5" height="7"/><rect x="441" y="112" width="1" height="28"/><rect x="439" y="115" width="5" height="13"/><rect x="461" y="43" width="1" height="29"/><rect x="459" y="50" width="5" height="7"/><rect x="467" y="52" width="1" height="29"/><rect x="465" y="56" width="5" height="15"/><rect x="486" y="48" width="1" height="47"/><rect x="484" y="57" width="5" height="38"/><rect x="499" y="65" width="1" height="39"/><rect x="497" y="67" width="5" height="25"/><rect x="506" y="80" width="1" height="165"/><rect x="504" y="91" width="5" height="97"/><rect x="512" y="179" width="1" height="55"/><rect x="510" y="187" width="5" height="33"/><rect x="532" y="119" width="1" height="60"/><rect x="530" y="127" width="5" height="20"/><rect x="538" y="126" width="1" height="50"/><rect x="536" y="146" width="5" height="26"/><rect x="545" y="157" width="1" height="48"/><rect x="543" y="171" width="5" height="28"/><rect x="551" y="190" width="1" height="40"/><rect x="549" y="198" width="5" height="9"/><rect x="577" y="160" width="1" height="44"/><rect x="575" y="183" width="5" height="13"/><rect x="584" y="190" width="1" height="31"/><rect x="582" y="195" width="5" height="18"/><rect x="616" y="137" width="1" height="24"/><rect x="614" y="153" width="5" height="5"/><rect x="622" y="141" width="1" height="41"/><rect x="620" y="157" width="5" height="14"/><rect x="629" y="146" width="1" height="38"/><rect x="627" y="170" width="5" height="1"/><rect x="635" y="158" width="1" height="58"/><rect x="633" y="171" width="5" height="28"/><rect x="648" y="190" width="1" height="11"/><rect x="646" y="191" width="5" height="3"/><rect x="661" y="185" width="1" height="77"/><rect x="659" y="189" width="5" height="65"/><rect x="668" y="246" width="1" height="67"/><rect x="666" y="253" width="5" height="34"/><rect x="681" y="263" width="1" height="28"/><rect x="679" y="264" width="5" height="22"/><rect x="693" y="257" width="1" height="27"/><rect x="691" y="266" width="5" height="12"/><rect x="713" y="236" width="1" height="53"/><rect x="711" y="250" width="5" height="38"/><rect x="719" y="268" width="1" height="29"/><rect x="717" y="287" width="5" height="5"/><rect x="726" y="280" width="1" height="47"/><rect x="724" y="291" width="5" height="26"/><rect x="732" y="314" width="1" height="29"/><rect x="730" y="316" width="5" height="19"/><rect x="745" y="320" width="1" height="27"/><rect x="743" y="332" width="5" height="8"/><rect x="752" y="321" width="1" height="43"/><rect x="750" y="339" width="5" height="19"/><rect x="765" y="322" width="1" height="36"/><rect x="763" y="328" width="5" height="12"/><rect x="771" y="316" width="1" height="41"/><rect x="769" y="339" width="5" height="11"/><rect x="778" y="345" width="1" height="40"/><rect x="776" y="349" width="5" height="16"/><rect x="784" y="360" width="1" height="15"/><rect x="782" y="364" width="5" height="4"/><rect x="816" y="318" width="1" height="11"/><rect x="814" y="322" width="5" height="7"/><rect x="823" y="320" width="1" height="22"/><rect x="821" y="328" width="5" height="11"/><rect x="829" y="336" width="1" height="10"/><rect x="827" y="338" width="5" height="6"/><rect x="836" y="330" width="1" height="21"/><rect x="834" y="343" width="5" height="8"/><rect x="842" y="349" width="1" height="31"/><rect x="840" y="350" width="5" height="21"/><rect x="862" y="310" width="1" height="27"/><rect x="860" y="317" width="5" height="17"/><rect x="868" y="328" width="1" height="30"/><rect x="866" y="333" width="5" height="18"/><rect x="875" y="348" width="1" height="8"/><rect x="873" y="350" width="5" height="5"/><rect x="900" y="323" width="1" height="21"/><rect x="898" y="337" width="5" height="6"/><rect x="913" y="330" width="1" height="29"/><rect x="911" y="341" width="5" height="13"/><rect x="926" y="349" width="1" height="17"/><rect x="924" y="351" width="5" height="12"/><rect x="933" y="344" width="1" height="35"/><rect x="931" y="362" width="5" height="6"/><rect x="946" y="348" width="1" height="38"/><rect x="944" y="363" width="5" height="18"/><rect x="952" y="363" width="1" height="36"/><rect x="950" y="380" width="5" height="12"/><rect x="965" y="369" width="1" height="5"/><rect x="963" y="371" width="5" height="2"/><rect x="978" y="364" width="1" height="13"/><rect x="976" y="371" width="5" height="1"/><rect x="985" y="369" width="1" height="14"/><rect x="983" y="372" width="5" height="7"/><rect x="991" y="377" width="1" height="11"/><rect x="989" y="378" width="5" height="5"/><rect x="998" y="376" width="1" height="15"/><rect x="996" y="382" width="5" height="9"/><rect x="1023" y="360" width="1" height="22"/><rect x="1021" y="374" width="5" height="7"/><rect x="1036" y="352" width="1" height="29"/><rect x="1034" y="375" width="5" height="2"/><rect x="1082" y="326" width="1" height="21"/><rect x="1080" y="327" width="5" height="15"/><rect x="1095" y="327" width="1" height="18"/><rect x="1093" y="335" width="5" height="8"/><rect x="1101" y="340" width="1" height="4"/><rect x="1099" y="342" width="5" height="1"/><rect x="1114" y="317" width="1" height="18"/><rect x="1112" y="331" width="5" height="3"/><rect x="1133" y="311" width="1" height="17"/><rect x="1131" y="311" width="5" height="13"/><rect x="1146" y="316" width="1" height="5"/><rect x="1144" y="316" width="5" height="3"/><rect x="1153" y="319" width="1" height="19"/><rect x="1151" y="319" width="5" height="19"/><rect x="1159" y="337" width="1" height="23"/><rect x="1157" y="337" width="5" height="13"/><rect x="1166" y="346" width="1" height="30"/><rect x="1164" y="350" width="5" height="24"/><rect x="1179" y="357" width="1" height="13"/><rect x="1177" y="361" width="5" height="5"/><rect x="1185" y="359" width="1" height="15"/><rect x="1183" y="365" width="5" height="4"/><rect x="1192" y="366" width="1" height="4"/><rect x="1190" y="368" width="5" height="1"/><rect x="1198" y="368" width="1" height="30"/><rect x="1196" y="368" width="5" height="26"/><rect x="1217" y="365" width="1" height="11"/><rect x="1215" y="368" width="5" height="7"/><rect x="1224" y="373" width="1" height="30"/><rect x="1222" y="374" width="5" height="23"/><rect x="1230" y="392" width="1" height="21"/><rect x="1228" y="396" width="5" height="1"/><rect x="1237" y="393" width="1" height="67"/><rect x="1235" y="397" width="5" height="36"/><rect x="1243" y="429" width="1" height="26"/><rect x="1241" y="432" width="5" height="16"/><rect x="1256" y="434" width="1" height="25"/><rect x="1254" y="435" width="5" height="21"/><rect x="1263" y="450" width="1" height="31"/><rect x="1261" y="455" width="5" height="18"/><rect x="1269" y="468" width="1" height="47"/><rect x="1267" y="472" width="5" height="42"/><rect x="1289" y="481" width="1" height="10"/><rect x="1287" y="486" width="5" height="2"/><rect x="1295" y="482" width="1" height="18"/><rect x="1293" y="487" width="5" height="1"/><rect x="1302" y="486" width="1" height="16"/><rect x="1300" y="488" width="5" height="12"/><rect x="1308" y="495" width="1" height="19"/><rect x="1306" y="499" width="5" height="13"/><rect x="1314" y="501" width="1" height="17"/><rect x="1312" y="510" width="5" height="4"/><rect x="1334" y="475" width="1" height="19"/><rect x="1332" y="484" width="5" height="7"/><rect x="1347" y="485" width="1" height="14"/><rect x="1345" y="489" width="5" height="5"/><rect x="1353" y="490" width="1" height="17"/><rect x="1351" y="493" width="5" height="11"/><rect x="1379" y="492" width="1" height="9"/><rect x="1377" y="493" width="5" height="8"/><rect x="1386" y="500" width="1" height="17"/><rect x="1384" y="500" width="5" height="15"/><rect x="1405" y="481" width="1" height="14"/><rect x="1403" y="484" width="5" height="8"/><rect x="1411" y="484" width="1" height="23"/><rect x="1409" y="491" width="5" height="13"/><rect x="1424" y="482" width="1" height="21"/><rect x="1422" y="495" width="5" height="3"/><rect x="1450" y="470" width="1" height="15"/><rect x="1448" y="476" width="5" height="7"/><rect x="1457" y="481" width="1" height="16"/><rect x="1455" y="482" width="5" height="13"/><rect x="1463" y="493" width="1" height="8"/><rect x="1461" y="494" width="5" height="6"/><rect x="1470" y="496" width="1" height="11"/><rect x="1468" y="499" width="5" height="5"/><rect x="1509" y="482" width="1" height="7"/><rect x="1507" y="484" width="5" height="1"/><rect x="1528" y="458" width="1" height="11"/><rect x="1526" y="460" width="5" height="6"/><rect x="1534" y="462" width="1" height="21"/><rect x="1532" y="465" width="5" height="14"/><rect x="1541" y="474" width="1" height="13"/><rect x="1539" y="478" width="5" height="5"/><rect x="1554" y="476" width="1" height="11"/><rect x="1552" y="479" width="5" height="7"/><rect x="1560" y="481" width="1" height="12"/><rect x="1558" y="486" width="5" height="5"/></g>
<line x1="2" y1="489.5" x2="2253" y2="489.5" stroke="#2a8654" stroke-width="1" stroke-dasharray="1.2 1.8"/>
<rect x="2" y="695" width="2251" height="111" fill="#7e57c2" fill-opacity="0.1"/>
<line x1="2" y1="695.5" x2="2253" y2="695.5" stroke="#6a6d78" stroke-width="1" stroke-dasharray="5 6" stroke-dashoffset="-1.3"/>
<line x1="2" y1="751.5" x2="2253" y2="751.5" stroke="#6a6d78" stroke-width="1" stroke-dasharray="5 6" stroke-dashoffset="-1.3"/>
<line x1="2" y1="806.5" x2="2253" y2="806.5" stroke="#6a6d78" stroke-width="1" stroke-dasharray="5 6" stroke-dashoffset="-1.3"/>
<polyline points="1.25,723.8 8.25,718.2 14.25,723.2 21.25,716.7 27.25,730.9 34.25,734.8 40.25,743.4 47.25,755.1 53.25,772.4 60.25,779.5 66.25,770.4 72.25,754.4 79.25,764.8 85.25,755.7 92.25,742.0 98.25,739.8 105.25,733.4 111.25,728.5 118.25,747.0 124.25,718.9 131.25,706.7 137.25,725.9 144.25,738.4 150.25,732.7 157.25,730.3 163.25,746.0 170.25,757.4 176.25,738.2 182.25,751.5 189.25,724.7 195.25,721.0 202.25,718.8 208.25,748.7 215.25,737.7 221.25,729.5 228.25,717.6 234.25,732.2 241.25,735.6 247.25,738.6 254.25,743.8 260.25,727.9 267.25,726.7 273.25,740.8 279.25,739.2 286.25,744.8 292.25,735.5 299.25,725.1 305.25,721.1 312.25,712.5 318.25,707.4 325.25,693.9 331.25,693.4 338.25,700.7 344.25,712.5 351.25,709.0 357.25,699.8 364.25,696.8 370.25,718.7 377.25,717.0 383.25,725.2 389.25,754.6 396.25,765.9 402.25,768.2 409.25,792.3 415.25,769.9 422.25,772.6 428.25,760.1 435.25,756.9 441.25,763.1 448.25,742.0 454.25,726.1 461.25,730.1 467.25,738.0 474.25,736.7 480.25,731.4 486.25,753.0 493.25,739.3 499.25,752.3 506.25,788.7 512.25,797.5 519.25,770.9 525.25,757.3 532.25,763.9 538.25,772.0 545.25,780.1 551.25,782.4 558.25,774.6 564.25,774.0 571.25,771.1 577.25,776.1 584.25,782.4 590.25,763.9 596.25,760.7 603.25,760.2 609.25,750.6 616.25,753.4 622.25,760.0 629.25,760.1 635.25,774.8 642.25,769.4 648.25,771.0 655.25,767.4 661.25,797.5 668.25,808.6 674.25,792.7 681.25,800.2 687.25,787.1 693.25,791.6 700.25,778.7 706.25,773.7 713.25,789.4 719.25,790.9 726.25,800.1 732.25,806.1 739.25,804.2 745.25,806.8 752.25,813.1 758.25,789.6 765.25,794.4 771.25,798.5 778.25,804.2 784.25,805.4 791.25,796.5 797.25,777.8 803.25,777.0 810.25,767.6 816.25,771.9 823.25,778.0 829.25,781.1 836.25,785.2 842.25,796.4 849.25,764.4 855.25,752.1 862.25,762.9 868.25,772.9 875.25,775.4 881.25,773.7 888.25,771.1 894.25,759.9 900.25,764.0 907.25,762.2 913.25,772.5 920.25,769.4 926.25,778.6 933.25,782.3 939.25,776.9 946.25,790.2 952.25,797.5 959.25,773.6 965.25,775.1 972.25,772.9 978.25,774.1 985.25,779.9 991.25,783.3 998.25,790.3 1004.25,778.9 1010.25,769.3 1017.25,766.8 1023.25,774.1 1030.25,765.8 1036.25,767.9 1043.25,756.6 1049.25,735.9 1056.25,732.5 1062.25,730.2 1069.25,718.2 1075.25,708.1 1082.25,731.5 1088.25,724.8 1095.25,735.4 1101.25,735.7 1107.25,722.6 1114.25,727.4 1120.25,707.7 1127.25,705.0 1133.25,725.3 1140.25,717.8 1146.25,723.0 1153.25,748.2 1159.25,762.7 1166.25,784.2 1172.25,768.6 1179.25,773.0 1185.25,775.3 1192.25,775.7 1198.25,796.4 1204.25,775.1 1211.25,764.8 1217.25,771.0 1224.25,788.3 1230.25,788.6 1237.25,810.4 1243.25,817.4 1250.25,802.0 1256.25,812.3 1263.25,819.6 1269.25,833.5 1276.25,806.0 1282.25,805.7 1289.25,806.6 1295.25,806.6 1302.25,812.3 1308.25,817.2 1314.25,818.2 1321.25,796.0 1327.25,784.6 1334.25,788.9 1340.25,786.7 1347.25,790.1 1353.25,796.8 1360.25,793.0 1366.25,784.1 1373.25,782.5 1379.25,789.2 1386.25,799.6 1392.25,794.5 1399.25,760.6 1405.25,767.7 1411.25,777.9 1418.25,767.5 1424.25,770.1 1431.25,758.8 1437.25,758.8 1444.25,745.2 1450.25,752.9 1457.25,765.6 1463.25,770.5 1470.25,774.8 1476.25,760.1 1483.25,758.1 1489.25,754.9 1496.25,753.6 1502.25,748.6 1509.25,749.2 1515.25,731.5 1521.25,717.9 1528.25,727.9 1534.25,747.5 1541.25,752.6 1547.25,748.2 1554.25,758.0 1560.25,764.0 1567.25,760.1" fill="none" stroke="#7e57c2" stroke-width="1.2" stroke-linejoin="round"/>
<g><rect x="2" y="908.0" width="2" height="9.5" fill="#b2dfdb"/><rect x="5" y="910.7" width="6" height="6.8" fill="#b2dfdb"/><rect x="12" y="913.5" width="5" height="4.0" fill="#b2dfdb"/><rect x="18" y="914.8" width="6" height="2.7" fill="#b2dfdb"/><rect x="25" y="917.5" width="5" height="1.0" fill="#ff5252"/><rect x="31" y="917.5" width="6" height="2.5" fill="#ff5252"/><rect x="38" y="917.5" width="5" height="5.2" fill="#ff5252"/><rect x="44" y="917.5" width="6" height="8.3" fill="#ff5252"/><rect x="51" y="917.5" width="5" height="12.5" fill="#ff5252"/><rect x="57" y="917.5" width="6" height="15.8" fill="#ff5252"/><rect x="64" y="917.5" width="5" height="16.3" fill="#ff5252"/><rect x="70" y="917.5" width="5" height="14.0" fill="#ffcdd2"/><rect x="76" y="917.5" width="6" height="13.5" fill="#ffcdd2"/><rect x="83" y="917.5" width="5" height="11.4" fill="#ffcdd2"/><rect x="89" y="917.5" width="6" height="7.8" fill="#ffcdd2"/><rect x="96" y="917.5" width="5" height="4.9" fill="#ffcdd2"/><rect x="102" y="917.5" width="6" height="2.0" fill="#ffcdd2"/><rect x="109" y="916.9" width="5" height="1.0" fill="#26a69a"/><rect x="115" y="917.5" width="6" height="1.0" fill="#ff5252"/><rect x="122" y="913.5" width="5" height="4.0" fill="#26a69a"/><rect x="128" y="908.8" width="6" height="8.7" fill="#26a69a"/><rect x="135" y="908.8" width="5" height="8.7" fill="#26a69a"/><rect x="141" y="911.0" width="6" height="6.5" fill="#b2dfdb"/><rect x="148" y="911.9" width="5" height="5.6" fill="#b2dfdb"/><rect x="154" y="912.5" width="6" height="5.0" fill="#b2dfdb"/><rect x="161" y="915.3" width="5" height="2.2" fill="#b2dfdb"/><rect x="167" y="917.5" width="6" height="1.6" fill="#ff5252"/><rect x="174" y="917.5" width="5" height="1.0" fill="#ffcdd2"/><rect x="180" y="917.5" width="5" height="2.7" fill="#ff5252"/><rect x="186" y="916.1" width="6" height="1.4" fill="#26a69a"/><rect x="193" y="912.8" width="5" height="4.7" fill="#26a69a"/><rect x="199" y="910.7" width="6" height="6.8" fill="#26a69a"/><rect x="206" y="914.7" width="5" height="2.8" fill="#b2dfdb"/><rect x="212" y="915.3" width="6" height="2.2" fill="#b2dfdb"/><rect x="219" y="914.1" width="5" height="3.4" fill="#26a69a"/><rect x="225" y="910.8" width="6" height="6.7" fill="#26a69a"/><rect x="232" y="911.8" width="5" height="5.7" fill="#b2dfdb"/><rect x="238" y="913.5" width="6" height="4.0" fill="#b2dfdb"/><rect x="245" y="915.5" width="5" height="2.0" fill="#b2dfdb"/><rect x="251" y="917.5" width="6" height="1.0" fill="#ff5252"/><rect x="258" y="916.4" width="5" height="1.1" fill="#26a69a"/><rect x="264" y="915.5" width="6" height="2.0" fill="#26a69a"/><rect x="271" y="917.5" width="5" height="1.0" fill="#ff5252"/><rect x="277" y="917.5" width="5" height="1.1" fill="#ff5252"/><rect x="283" y="917.5" width="6" height="2.9" fill="#ff5252"/><rect x="290" y="917.5" width="5" height="2.4" fill="#ffcdd2"/><rect x="296" y="917.5" width="6" height="1.0" fill="#ffcdd2"/><rect x="303" y="915.8" width="5" height="1.7" fill="#26a69a"/><rect x="309" y="913.1" width="6" height="4.4" fill="#26a69a"/><rect x="316" y="910.7" width="5" height="6.8" fill="#26a69a"/><rect x="322" y="906.4" width="6" height="11.1" fill="#26a69a"/><rect x="329" y="904.4" width="5" height="13.1" fill="#26a69a"/><rect x="335" y="905.0" width="6" height="12.5" fill="#b2dfdb"/><rect x="342" y="907.6" width="5" height="9.9" fill="#b2dfdb"/><rect x="348" y="909.4" width="6" height="8.1" fill="#b2dfdb"/><rect x="355" y="909.3" width="5" height="8.2" fill="#26a69a"/><rect x="361" y="909.4" width="6" height="8.1" fill="#b2dfdb"/><rect x="368" y="912.7" width="5" height="4.8" fill="#b2dfdb"/><rect x="374" y="915.1" width="6" height="2.4" fill="#b2dfdb"/><rect x="381" y="917.5" width="5" height="1.0" fill="#ff5252"/><rect x="387" y="917.5" width="5" height="6.7" fill="#ff5252"/><rect x="393" y="917.5" width="6" height="12.5" fill="#ff5252"/><rect x="400" y="917.5" width="5" height="16.2" fill="#ff5252"/><rect x="406" y="917.5" width="6" height="22.9" fill="#ff5252"/><rect x="413" y="917.5" width="5" height="22.9" fill="#ff5252"/><rect x="419" y="917.5" width="6" height="22.5" fill="#ffcdd2"/><rect x="426" y="917.5" width="5" height="19.3" fill="#ffcdd2"/><rect x="432" y="917.5" width="6" height="15.9" fill="#ffcdd2"/><rect x="439" y="917.5" width="5" height="14.1" fill="#ffcdd2"/><rect x="445" y="917.5" width="6" height="8.8" fill="#ffcdd2"/><rect x="452" y="917.5" width="5" height="1.9" fill="#ffcdd2"/><rect x="458" y="915.6" width="6" height="1.9" fill="#26a69a"/><rect x="465" y="914.6" width="5" height="2.9" fill="#26a69a"/><rect x="471" y="913.9" width="6" height="3.6" fill="#26a69a"/><rect x="478" y="912.8" width="5" height="4.7" fill="#26a69a"/><rect x="484" y="915.6" width="5" height="1.9" fill="#b2dfdb"/><rect x="490" y="915.2" width="6" height="2.3" fill="#26a69a"/><rect x="497" y="917.3" width="5" height="1.0" fill="#b2dfdb"/><rect x="503" y="917.5" width="6" height="9.4" fill="#ff5252"/><rect x="510" y="917.5" width="5" height="17.7" fill="#ff5252"/><rect x="516" y="917.5" width="6" height="17.1" fill="#ffcdd2"/><rect x="523" y="917.5" width="5" height="12.8" fill="#ffcdd2"/><rect x="529" y="917.5" width="6" height="11.0" fill="#ffcdd2"/><rect x="536" y="917.5" width="5" height="11.5" fill="#ff5252"/><rect x="542" y="917.5" width="6" height="13.3" fill="#ff5252"/><rect x="549" y="917.5" width="5" height="14.4" fill="#ff5252"/><rect x="555" y="917.5" width="6" height="12.6" fill="#ffcdd2"/><rect x="562" y="917.5" width="5" height="10.6" fill="#ffcdd2"/><rect x="568" y="917.5" width="6" height="8.1" fill="#ffcdd2"/><rect x="575" y="917.5" width="5" height="6.9" fill="#ffcdd2"/><rect x="581" y="917.5" width="6" height="7.0" fill="#ff5252"/><rect x="588" y="917.5" width="5" height="3.5" fill="#ffcdd2"/><rect x="594" y="917.5" width="5" height="1.0" fill="#ffcdd2"/><rect x="600" y="915.3" width="6" height="2.2" fill="#26a69a"/><rect x="607" y="912.1" width="5" height="5.4" fill="#26a69a"/><rect x="613" y="910.6" width="6" height="6.9" fill="#26a69a"/><rect x="620" y="910.8" width="5" height="6.7" fill="#b2dfdb"/><rect x="626" y="911.1" width="6" height="6.4" fill="#b2dfdb"/><rect x="633" y="913.8" width="5" height="3.7" fill="#b2dfdb"/><rect x="639" y="914.8" width="6" height="2.7" fill="#b2dfdb"/><rect x="646" y="915.6" width="5" height="1.9" fill="#b2dfdb"/><rect x="652" y="915.6" width="6" height="1.9" fill="#26a69a"/><rect x="659" y="917.5" width="5" height="3.5" fill="#ff5252"/><rect x="665" y="917.5" width="6" height="9.4" fill="#ff5252"/><rect x="672" y="917.5" width="5" height="10.4" fill="#ff5252"/><rect x="678" y="917.5" width="6" height="12.1" fill="#ff5252"/><rect x="685" y="917.5" width="5" height="10.6" fill="#ffcdd2"/><rect x="691" y="917.5" width="5" height="9.7" fill="#ffcdd2"/><rect x="697" y="917.5" width="6" height="6.7" fill="#ffcdd2"/><rect x="704" y="917.5" width="5" height="3.5" fill="#ffcdd2"/><rect x="710" y="917.5" width="6" height="4.1" fill="#ff5252"/><rect x="717" y="917.5" width="5" height="4.3" fill="#ff5252"/><rect x="723" y="917.5" width="6" height="6.0" fill="#ff5252"/><rect x="730" y="917.5" width="5" height="7.9" fill="#ff5252"/><rect x="736" y="917.5" width="6" height="8.0" fill="#ff5252"/><rect x="743" y="917.5" width="5" height="7.9" fill="#ffcdd2"/><rect x="749" y="917.5" width="6" height="8.6" fill="#ff5252"/><rect x="756" y="917.5" width="5" height="5.5" fill="#ffcdd2"/><rect x="762" y="917.5" width="6" height="3.8" fill="#ffcdd2"/><rect x="769" y="917.5" width="5" height="3.0" fill="#ffcdd2"/><rect x="775" y="917.5" width="6" height="3.1" fill="#ff5252"/><rect x="782" y="917.5" width="5" height="2.8" fill="#ffcdd2"/><rect x="788" y="917.5" width="6" height="1.1" fill="#ffcdd2"/><rect x="795" y="914.9" width="5" height="2.6" fill="#26a69a"/><rect x="801" y="912.2" width="5" height="5.3" fill="#26a69a"/><rect x="807" y="909.3" width="6" height="8.2" fill="#26a69a"/><rect x="814" y="908.0" width="5" height="9.5" fill="#26a69a"/><rect x="820" y="908.2" width="6" height="9.3" fill="#b2dfdb"/><rect x="827" y="908.7" width="5" height="8.8" fill="#b2dfdb"/><rect x="833" y="909.8" width="6" height="7.7" fill="#b2dfdb"/><rect x="840" y="912.1" width="5" height="5.4" fill="#b2dfdb"/><rect x="846" y="910.4" width="6" height="7.1" fill="#26a69a"/><rect x="853" y="907.8" width="5" height="9.7" fill="#26a69a"/><rect x="859" y="907.8" width="6" height="9.7" fill="#26a69a"/><rect x="866" y="909.4" width="5" height="8.1" fill="#b2dfdb"/><rect x="872" y="911.0" width="6" height="6.5" fill="#b2dfdb"/><rect x="879" y="911.8" width="5" height="5.7" fill="#b2dfdb"/><rect x="885" y="912.1" width="6" height="5.4" fill="#b2dfdb"/><rect x="892" y="911.3" width="5" height="6.2" fill="#26a69a"/><rect x="898" y="911.3" width="5" height="6.2" fill="#b2dfdb"/><rect x="904" y="911.2" width="6" height="6.3" fill="#26a69a"/><rect x="911" y="912.4" width="5" height="5.1" fill="#b2dfdb"/><rect x="917" y="913.0" width="6" height="4.5" fill="#b2dfdb"/><rect x="924" y="914.4" width="5" height="3.1" fill="#b2dfdb"/><rect x="930" y="915.7" width="6" height="1.8" fill="#b2dfdb"/><rect x="937" y="916.0" width="5" height="1.5" fill="#b2dfdb"/><rect x="943" y="917.5" width="6" height="1.0" fill="#ff5252"/><rect x="950" y="917.5" width="5" height="1.9" fill="#ff5252"/><rect x="956" y="917.5" width="6" height="1.0" fill="#ffcdd2"/><rect x="963" y="917.5" width="5" height="1.0" fill="#ffcdd2"/><rect x="969" y="917.0" width="6" height="1.0" fill="#26a69a"/><rect x="976" y="916.5" width="5" height="1.0" fill="#26a69a"/><rect x="982" y="916.5" width="6" height="1.0" fill="#b2dfdb"/><rect x="989" y="916.8" width="5" height="1.0" fill="#b2dfdb"/><rect x="995" y="917.5" width="6" height="1.0" fill="#ff5252"/><rect x="1002" y="917.1" width="5" height="1.0" fill="#26a69a"/><rect x="1008" y="916.1" width="5" height="1.4" fill="#26a69a"/><rect x="1014" y="915.2" width="6" height="2.3" fill="#26a69a"/><rect x="1021" y="915.1" width="5" height="2.4" fill="#26a69a"/><rect x="1027" y="914.6" width="6" height="2.9" fill="#26a69a"/><rect x="1034" y="914.4" width="5" height="3.1" fill="#26a69a"/><rect x="1040" y="913.6" width="6" height="3.9" fill="#26a69a"/><rect x="1047" y="911.8" width="5" height="5.7" fill="#26a69a"/><rect x="1053" y="910.5" width="6" height="7.0" fill="#26a69a"/><rect x="1060" y="909.8" width="5" height="7.7" fill="#26a69a"/><rect x="1066" y="908.8" width="6" height="8.7" fill="#26a69a"/><rect x="1073" y="907.6" width="5" height="9.9" fill="#26a69a"/><rect x="1079" y="908.6" width="6" height="8.9" fill="#b2dfdb"/><rect x="1086" y="909.1" width="5" height="8.4" fill="#b2dfdb"/><rect x="1092" y="910.5" width="6" height="7.0" fill="#b2dfdb"/><rect x="1099" y="911.7" width="5" height="5.8" fill="#b2dfdb"/><rect x="1105" y="911.8" width="5" height="5.7" fill="#b2dfdb"/><rect x="1111" y="912.4" width="6" height="5.1" fill="#b2dfdb"/><rect x="1118" y="911.4" width="5" height="6.1" fill="#26a69a"/><rect x="1124" y="910.8" width="6" height="6.7" fill="#26a69a"/><rect x="1131" y="912.0" width="5" height="5.5" fill="#b2dfdb"/><rect x="1137" y="912.4" width="6" height="5.1" fill="#b2dfdb"/><rect x="1144" y="913.4" width="5" height="4.1" fill="#b2dfdb"/><rect x="1150" y="915.8" width="6" height="1.7" fill="#b2dfdb"/><rect x="1157" y="917.5" width="5" height="1.1" fill="#ff5252"/><rect x="1163" y="917.5" width="6" height="5.0" fill="#ff5252"/><rect x="1170" y="917.5" width="5" height="6.1" fill="#ff5252"/><rect x="1176" y="917.5" width="6" height="7.0" fill="#ff5252"/><rect x="1183" y="917.5" width="5" height="7.4" fill="#ff5252"/><rect x="1189" y="917.5" width="6" height="7.4" fill="#ffcdd2"/><rect x="1196" y="917.5" width="5" height="9.1" fill="#ff5252"/><rect x="1202" y="917.5" width="5" height="8.3" fill="#ffcdd2"/><rect x="1208" y="917.5" width="6" height="6.6" fill="#ffcdd2"/><rect x="1215" y="917.5" width="5" height="5.7" fill="#ffcdd2"/><rect x="1221" y="917.5" width="6" height="6.7" fill="#ff5252"/><rect x="1228" y="917.5" width="5" height="6.9" fill="#ff5252"/><rect x="1234" y="917.5" width="6" height="9.7" fill="#ff5252"/><rect x="1241" y="917.5" width="5" height="12.1" fill="#ff5252"/><rect x="1247" y="917.5" width="6" height="11.7" fill="#ffcdd2"/><rect x="1254" y="917.5" width="5" height="12.5" fill="#ff5252"/><rect x="1260" y="917.5" width="6" height="13.6" fill="#ff5252"/><rect x="1267" y="917.5" width="5" height="17.0" fill="#ff5252"/><rect x="1273" y="917.5" width="6" height="15.5" fill="#ffcdd2"/><rect x="1280" y="917.5" width="5" height="13.5" fill="#ffcdd2"/><rect x="1286" y="917.5" width="6" height="11.3" fill="#ffcdd2"/><rect x="1293" y="917.5" width="5" height="9.0" fill="#ffcdd2"/><rect x="1299" y="917.5" width="6" height="7.8" fill="#ffcdd2"/><rect x="1306" y="917.5" width="5" height="7.2" fill="#ffcdd2"/><rect x="1312" y="917.5" width="5" height="6.3" fill="#ffcdd2"/><rect x="1318" y="917.5" width="6" height="3.3" fill="#ffcdd2"/><rect x="1325" y="917.4" width="5" height="1.0" fill="#ffcdd2"/><rect x="1331" y="915.4" width="6" height="2.1" fill="#26a69a"/><rect x="1338" y="913.7" width="5" height="3.8" fill="#26a69a"/><rect x="1344" y="912.9" width="6" height="4.6" fill="#26a69a"/><rect x="1351" y="913.0" width="5" height="4.5" fill="#b2dfdb"/><rect x="1357" y="912.7" width="6" height="4.8" fill="#26a69a"/><rect x="1364" y="911.8" width="5" height="5.7" fill="#26a69a"/><rect x="1370" y="911.0" width="6" height="6.5" fill="#26a69a"/><rect x="1377" y="911.3" width="5" height="6.2" fill="#b2dfdb"/><rect x="1383" y="912.6" width="6" height="4.9" fill="#b2dfdb"/><rect x="1390" y="913.0" width="5" height="4.5" fill="#b2dfdb"/><rect x="1396" y="910.9" width="6" height="6.6" fill="#26a69a"/><rect x="1403" y="910.2" width="5" height="7.3" fill="#26a69a"/><rect x="1409" y="911.0" width="5" height="6.5" fill="#b2dfdb"/><rect x="1415" y="910.7" width="6" height="6.8" fill="#26a69a"/><rect x="1422" y="910.9" width="5" height="6.6" fill="#b2dfdb"/><rect x="1428" y="910.3" width="6" height="7.2" fill="#26a69a"/><rect x="1435" y="910.0" width="5" height="7.5" fill="#26a69a"/><rect x="1441" y="909.0" width="6" height="8.5" fill="#26a69a"/><rect x="1448" y="909.2" width="5" height="8.3" fill="#b2dfdb"/><rect x="1454" y="910.7" width="6" height="6.8" fill="#b2dfdb"/><rect x="1461" y="912.2" width="5" height="5.3" fill="#b2dfdb"/><rect x="1467" y="913.6" width="6" height="3.9" fill="#b2dfdb"/><rect x="1474" y="913.6" width="5" height="3.9" fill="#b2dfdb"/><rect x="1480" y="913.6" width="6" height="3.9" fill="#26a69a"/><rect x="1487" y="913.4" width="5" height="4.1" fill="#26a69a"/><rect x="1493" y="913.4" width="6" height="4.1" fill="#26a69a"/><rect x="1500" y="913.1" width="5" height="4.4" fill="#26a69a"/><rect x="1506" y="913.1" width="6" height="4.4" fill="#b2dfdb"/><rect x="1513" y="912.2" width="5" height="5.3" fill="#26a69a"/><rect x="1519" y="910.8" width="5" height="6.7" fill="#26a69a"/><rect x="1525" y="910.7" width="6" height="6.8" fill="#26a69a"/><rect x="1532" y="912.1" width="5" height="5.4" fill="#b2dfdb"/><rect x="1538" y="913.6" width="6" height="3.9" fill="#b2dfdb"/><rect x="1545" y="914.4" width="5" height="3.1" fill="#b2dfdb"/><rect x="1551" y="915.6" width="6" height="1.9" fill="#b2dfdb"/><rect x="1558" y="916.9" width="5" height="1.0" fill="#b2dfdb"/><rect x="1564" y="917.5" width="6" height="1.0" fill="#ff5252"/></g>
<polyline points="1.25,875.7 8.25,876.7 14.25,878.6 21.25,879.2 27.25,882.0 34.25,885.1 40.25,889.1 47.25,894.3 53.25,901.6 60.25,908.9 66.25,913.5 72.25,914.8 79.25,917.6 85.25,918.4 92.25,916.8 98.25,915.1 105.25,912.7 111.25,910.1 118.25,910.6 124.25,905.7 131.25,898.8 137.25,896.6 144.25,897.3 150.25,896.8 157.25,896.1 163.25,898.5 170.25,902.7 176.25,902.3 182.25,904.8 189.25,900.3 195.25,895.9 202.25,892.1 208.25,895.4 215.25,895.5 221.25,893.5 228.25,888.5 234.25,888.1 241.25,888.8 247.25,890.3 254.25,892.9 260.25,891.2 267.25,889.8 273.25,891.7 279.25,893.2 286.25,895.7 292.25,895.9 299.25,893.8 305.25,891.4 312.25,887.6 318.25,883.6 325.25,876.5 331.25,871.3 338.25,868.7 344.25,869.0 351.25,868.8 357.25,866.7 364.25,864.7 370.25,866.8 377.25,868.7 383.25,871.8 389.25,879.7 396.25,888.6 402.25,896.4 409.25,908.8 415.25,914.6 422.25,919.8 428.25,921.5 435.25,922.1 441.25,923.9 448.25,920.8 454.25,914.4 461.25,910.2 467.25,908.4 474.25,906.9 480.25,904.6 486.25,907.0 493.25,906.0 499.25,908.0 506.25,920.0 512.25,932.8 519.25,936.5 525.25,935.4 532.25,936.5 538.25,939.8 545.25,945.0 551.25,949.6 558.25,951.1 564.25,951.7 571.25,951.2 577.25,951.8 584.25,953.7 590.25,951.1 596.25,947.9 603.25,945.0 609.25,940.5 616.25,937.2 622.25,935.8 629.25,934.5 635.25,936.3 642.25,936.6 648.25,937.0 655.25,936.5 661.25,942.8 668.25,951.1 674.25,954.7 681.25,959.5 687.25,960.6 693.25,962.2 700.25,960.9 706.25,958.5 713.25,960.3 719.25,961.6 726.25,964.7 732.25,968.6 739.25,970.8 745.25,972.7 752.25,975.5 758.25,973.8 765.25,973.2 771.25,973.1 778.25,974.0 784.25,974.4 791.25,973.0 797.25,968.7 803.25,964.7 810.25,959.8 816.25,956.2 823.25,954.0 829.25,952.4 836.25,951.5 842.25,952.5 849.25,949.0 855.25,944.1 862.25,941.7 868.25,941.3 875.25,941.3 881.25,940.7 888.25,939.7 894.25,937.3 900.25,935.8 907.25,934.1 913.25,934.1 920.25,933.6 926.25,934.2 933.25,935.1 939.25,935.1 946.25,936.7 952.25,939.0 959.25,938.3 965.25,937.8 972.25,936.9 978.25,936.1 985.25,936.0 991.25,936.1 998.25,936.8 1004.25,936.4 1010.25,935.0 1017.25,933.5 1023.25,932.9 1030.25,931.7 1036.25,930.7 1043.25,929.0 1049.25,925.7 1056.25,922.8 1062.25,920.2 1069.25,917.0 1075.25,913.3 1082.25,912.1 1088.25,910.6 1095.25,910.2 1101.25,910.0 1107.25,908.7 1114.25,908.1 1120.25,905.6 1127.25,903.4 1133.25,903.2 1140.25,902.4 1146.25,902.3 1153.25,904.4 1159.25,907.5 1166.25,912.6 1172.25,915.3 1179.25,917.9 1185.25,920.2 1192.25,922.1 1198.25,926.1 1204.25,927.4 1211.25,927.3 1217.25,927.9 1224.25,930.6 1230.25,932.6 1237.25,937.8 1243.25,943.3 1250.25,945.9 1256.25,949.8 1263.25,954.4 1269.25,962.0 1276.25,964.4 1282.25,965.8 1289.25,966.5 1295.25,966.5 1302.25,967.2 1308.25,968.5 1314.25,969.1 1321.25,967.0 1327.25,963.6 1334.25,961.1 1340.25,958.5 1347.25,956.5 1353.25,955.6 1360.25,954.1 1366.25,951.8 1373.25,949.4 1379.25,948.1 1386.25,948.2 1392.25,947.5 1399.25,943.8 1405.25,941.3 1411.25,940.5 1418.25,938.5 1424.25,937.1 1431.25,934.7 1437.25,932.6 1444.25,929.5 1450.25,927.7 1457.25,927.4 1463.25,927.6 1470.25,928.2 1476.25,927.2 1483.25,926.2 1489.25,925.1 1496.25,924.0 1502.25,922.7 1509.25,921.6 1515.25,919.4 1521.25,916.3 1528.25,914.6 1534.25,914.7 1541.25,915.2 1547.25,915.2 1554.25,916.0 1560.25,917.2 1567.25,917.8" fill="none" stroke="#2196f3" stroke-width="1.2" stroke-linejoin="round"/>
<polyline points="1.25,885.1 8.25,883.4 14.25,882.5 21.25,881.8 27.25,881.8 34.25,882.5 40.25,883.8 47.25,885.9 53.25,889.1 60.25,893.0 66.25,897.1 72.25,900.7 79.25,904.0 85.25,906.9 92.25,908.9 98.25,910.1 105.25,910.7 111.25,910.5 118.25,910.6 124.25,909.6 131.25,907.4 137.25,905.3 144.25,903.7 150.25,902.3 157.25,901.1 163.25,900.6 170.25,901.0 176.25,901.2 182.25,902.0 189.25,901.6 195.25,900.5 202.25,898.8 208.25,898.1 215.25,897.6 221.25,896.8 228.25,895.1 234.25,893.7 241.25,892.7 247.25,892.2 254.25,892.4 260.25,892.1 267.25,891.7 273.25,891.7 279.25,892.0 286.25,892.7 292.25,893.4 299.25,893.4 305.25,893.0 312.25,892.0 318.25,890.3 325.25,887.5 331.25,884.3 338.25,881.2 344.25,878.7 351.25,876.7 357.25,874.7 364.25,872.7 370.25,871.6 377.25,871.0 383.25,871.1 389.25,872.8 396.25,876.0 402.25,880.1 409.25,885.8 415.25,891.6 422.25,897.2 428.25,902.1 435.25,906.1 441.25,909.6 448.25,911.9 454.25,912.4 461.25,911.9 467.25,911.2 474.25,910.4 480.25,909.2 486.25,908.8 493.25,908.2 499.25,908.2 506.25,910.6 512.25,915.0 519.25,919.3 525.25,922.5 532.25,925.3 538.25,928.2 545.25,931.6 551.25,935.2 558.25,938.4 564.25,941.0 571.25,943.1 577.25,944.8 584.25,946.6 590.25,947.5 596.25,947.6 603.25,947.1 609.25,945.7 616.25,944.0 622.25,942.4 629.25,940.8 635.25,939.9 642.25,939.2 648.25,938.8 655.25,938.3 661.25,939.2 668.25,941.6 674.25,944.2 681.25,947.3 687.25,949.9 693.25,952.4 700.25,954.1 706.25,955.0 713.25,956.0 719.25,957.1 726.25,958.7 732.25,960.7 739.25,962.7 745.25,964.7 752.25,966.9 758.25,968.3 765.25,969.2 771.25,970.0 778.25,970.8 784.25,971.5 791.25,971.8 797.25,971.2 803.25,969.9 810.25,967.9 816.25,965.5 823.25,963.2 829.25,961.1 836.25,959.2 842.25,957.8 849.25,956.1 855.25,953.7 862.25,951.3 868.25,949.3 875.25,947.7 881.25,946.3 888.25,945.0 894.25,943.4 900.25,941.9 907.25,940.3 913.25,939.1 920.25,938.0 926.25,937.2 933.25,936.8 939.25,936.5 946.25,936.5 952.25,937.0 959.25,937.3 965.25,937.4 972.25,937.3 978.25,937.0 985.25,936.8 991.25,936.7 998.25,936.7 1004.25,936.6 1010.25,936.3 1017.25,935.8 1023.25,935.2 1030.25,934.5 1036.25,933.7 1043.25,932.8 1049.25,931.4 1056.25,929.7 1062.25,927.8 1069.25,925.6 1075.25,923.2 1082.25,921.0 1088.25,918.9 1095.25,917.1 1101.25,915.7 1107.25,914.3 1114.25,913.1 1120.25,911.6 1127.25,909.9 1133.25,908.6 1140.25,907.3 1146.25,906.3 1153.25,905.9 1159.25,906.2 1166.25,907.5 1172.25,909.1 1179.25,910.8 1185.25,912.7 1192.25,914.6 1198.25,916.9 1204.25,919.0 1211.25,920.7 1217.25,922.1 1224.25,923.8 1230.25,925.6 1237.25,928.0 1243.25,931.1 1250.25,934.0 1256.25,937.2 1263.25,940.6 1269.25,944.9 1276.25,948.8 1282.25,952.2 1289.25,955.0 1295.25,957.3 1302.25,959.3 1308.25,961.1 1314.25,962.7 1321.25,963.6 1327.25,963.6 1334.25,963.1 1340.25,962.2 1347.25,961.0 1353.25,960.0 1360.25,958.8 1366.25,957.4 1373.25,955.8 1379.25,954.3 1386.25,953.0 1392.25,951.9 1399.25,950.3 1405.25,948.5 1411.25,946.9 1418.25,945.2 1424.25,943.6 1431.25,941.8 1437.25,940.0 1444.25,937.9 1450.25,935.9 1457.25,934.2 1463.25,932.9 1470.25,931.9 1476.25,931.0 1483.25,930.0 1489.25,929.0 1496.25,928.0 1502.25,927.0 1509.25,925.9 1515.25,924.6 1521.25,922.9 1528.25,921.3 1534.25,920.0 1541.25,919.0 1547.25,918.2 1554.25,917.8 1560.25,917.7 1567.25,917.7" fill="none" stroke="#ff6d00" stroke-width="1.2" stroke-linejoin="round"/>
<g fill="#474a55"><text x="2261" y="630.9" textLength="48.5" lengthAdjust="spacingAndGlyphs">40.00000</text><text x="2261" y="571.7" textLength="48.5" lengthAdjust="spacingAndGlyphs">60.00000</text><text x="2261" y="512.4" textLength="48.5" lengthAdjust="spacingAndGlyphs">80.00000</text><text x="2261" y="453.2" textLength="55" lengthAdjust="spacingAndGlyphs">100.00000</text><text x="2261" y="393.9" textLength="55" lengthAdjust="spacingAndGlyphs">120.00000</text><text x="2261" y="334.7" textLength="55" lengthAdjust="spacingAndGlyphs">140.00000</text><text x="2261" y="275.5" textLength="55" lengthAdjust="spacingAndGlyphs">160.00000</text><text x="2261" y="216.2" textLength="55" lengthAdjust="spacingAndGlyphs">180.00000</text><text x="2261" y="157.0" textLength="55" lengthAdjust="spacingAndGlyphs">200.00000</text><text x="2261" y="97.7" textLength="55" lengthAdjust="spacingAndGlyphs">220.00000</text><text x="2261" y="38.5" textLength="55" lengthAdjust="spacingAndGlyphs">240.00000</text><text x="2261" y="727.9" textLength="30" lengthAdjust="spacingAndGlyphs">60.00</text><text x="2261" y="783.6" textLength="30" lengthAdjust="spacingAndGlyphs">40.00</text><text x="2261" y="838.6" textLength="30" lengthAdjust="spacingAndGlyphs">20.00</text><text x="2261" y="881.7" textLength="48.5" lengthAdjust="spacingAndGlyphs">10.00000</text></g>
<text x="2261" y="961.7" fill="#474a55" textLength="52" lengthAdjust="spacingAndGlyphs">-10.00000</text>
<rect x="2253" y="382" width="68" height="17" rx="2" fill="#2962ff"/><rect x="2253" y="382" width="3" height="17" fill="#2962ff"/><text x="2261.6" y="394.8" fill="#fff" font-weight="bold" textLength="54" lengthAdjust="spacingAndGlyphs">120.00000</text>
<rect x="2253" y="420" width="68" height="17" rx="2" fill="#2962ff"/><rect x="2253" y="420" width="3" height="17" fill="#2962ff"/><text x="2261.6" y="432.8" fill="#fff" font-weight="bold" textLength="54" lengthAdjust="spacingAndGlyphs">107.04513</text>
<rect x="2253" y="462" width="62" height="17" rx="2" fill="#f23645"/><rect x="2253" y="462" width="3" height="17" fill="#f23645"/><text x="2261.6" y="474.8" fill="#fff" font-weight="bold" textLength="47.5" lengthAdjust="spacingAndGlyphs">92.97262</text>
<rect x="2253" y="481" width="62" height="17" rx="2" fill="#26844f"/><rect x="2253" y="481" width="3" height="17" fill="#26844f"/><text x="2261.6" y="493.8" fill="#fff" font-weight="bold" textLength="47.5" lengthAdjust="spacingAndGlyphs">86.53000</text>
<rect x="2253" y="658" width="20" height="16" fill="#26a69a"/><text x="2260.7" y="670.8" fill="#fff" font-weight="bold" textLength="7" lengthAdjust="spacingAndGlyphs">4</text>
<rect x="2253" y="753" width="43" height="17" rx="2" fill="#7e57c2"/><rect x="2253" y="753" width="3" height="17" fill="#7e57c2"/><text x="2261.6" y="765.8" fill="#fff" font-weight="bold" textLength="29.5" lengthAdjust="spacingAndGlyphs">46.24</text>
<rect x="2253" y="909" width="60" height="17" rx="2" fill="#ff5252"/><rect x="2253" y="909" width="3" height="17" fill="#ff5252"/><text x="2261.6" y="921.8" fill="#fff" font-weight="bold" textLength="45.3" lengthAdjust="spacingAndGlyphs">-0.02571</text>
<rect x="2253" y="926" width="60" height="17" rx="2" fill="#ff6d00"/><rect x="2253" y="926" width="3" height="17" fill="#ff6d00"/><text x="2261.6" y="938.8" fill="#fff" font-weight="bold" textLength="45.3" lengthAdjust="spacingAndGlyphs">-0.05808</text>
<rect x="2253" y="943" width="60" height="17" rx="2" fill="#2196f3"/><rect x="2253" y="943" width="3" height="17" fill="#2196f3"/><text x="2261.6" y="955.8" fill="#fff" font-weight="bold" textLength="45.3" lengthAdjust="spacingAndGlyphs">-0.08379</text>
<g fill="#474a55"><text x="53.5" y="1005" text-anchor="middle">Aug</text><text x="137.5" y="1005" text-anchor="middle">14</text><text x="254.5" y="1005" text-anchor="middle">Sep</text><text x="338.5" y="1005" text-anchor="middle">14</text><text x="448.5" y="1005" text-anchor="middle">Oct</text><text x="532.5" y="1005" text-anchor="middle">14</text><text x="648.5" y="1005" text-anchor="middle">Nov</text><text x="732.5" y="1005" text-anchor="middle">14</text><text x="842.5" y="1005" text-anchor="middle">Dec</text><text x="926.5" y="1005" text-anchor="middle">14</text><text x="1043.5" y="1005" text-anchor="middle" font-weight="bold">2026</text><text x="1127.5" y="1005" text-anchor="middle">14</text><text x="1243.5" y="1005" text-anchor="middle">Feb</text><text x="1327.5" y="1005" text-anchor="middle">14</text><text x="1424.5" y="1005" text-anchor="middle">Mar</text><text x="1509.5" y="1005" text-anchor="middle">14</text><text x="1625.5" y="1005" text-anchor="middle">Apr</text><text x="1709.5" y="1005" text-anchor="middle">14</text><text x="1819.5" y="1005" text-anchor="middle">May</text><text x="1903.5" y="1005" text-anchor="middle">14</text><text x="2020.5" y="1005" text-anchor="middle">Jun</text><text x="2104.5" y="1005" text-anchor="middle">14</text><text x="2214.5" y="1005" text-anchor="middle">Jul</text></g>
<text x="9" y="20.4" fill="#474a55" textLength="129.7" lengthAdjust="spacingAndGlyphs">SOL/USDT (Binance), 1D</text>
<text x="146.8" y="20.4" fill="#474a55" textLength="8" lengthAdjust="spacingAndGlyphs">O</text><text x="154.8" y="20.4" fill="#26844f" textLength="47.9" lengthAdjust="spacingAndGlyphs">86.21000</text>
<text x="210.2" y="20.4" fill="#474a55" textLength="8" lengthAdjust="spacingAndGlyphs">H</text><text x="218.2" y="20.4" fill="#26844f" textLength="47.9" lengthAdjust="spacingAndGlyphs">87.22000</text>
<text x="274.1" y="20.4" fill="#474a55" textLength="5.8" lengthAdjust="spacingAndGlyphs">L</text><text x="279.9" y="20.4" fill="#26844f" textLength="47.9" lengthAdjust="spacingAndGlyphs">85.47000</text>
<text x="335.8" y="20.4" fill="#474a55" textLength="6.4" lengthAdjust="spacingAndGlyphs">C</text><text x="342.2" y="20.4" fill="#26844f" textLength="48" lengthAdjust="spacingAndGlyphs">86.53000</text>
<text x="398.8" y="20.4" fill="#26844f" textLength="90.9" lengthAdjust="spacingAndGlyphs">0.33000 (+0.38%)</text>
<text x="9" y="37.2" fill="#474a55" textLength="38.7" lengthAdjust="spacingAndGlyphs">Volume</text><text x="55.5" y="37.2" fill="#26a69a" textLength="6.5" lengthAdjust="spacingAndGlyphs">4</text>
<text x="9" y="54.2" fill="#474a55" textLength="96.3" lengthAdjust="spacingAndGlyphs">EMA (50, close, 0)</text><text x="113.3" y="54.2" fill="#f23645" textLength="47.5" lengthAdjust="spacingAndGlyphs">92.97262</text>
<text x="9" y="71.2" fill="#474a55" textLength="102.4" lengthAdjust="spacingAndGlyphs">EMA (100, close, 0)</text><text x="119.7" y="71.2" fill="#2962ff" textLength="53.8" lengthAdjust="spacingAndGlyphs">107.04513</text>
<text x="9" y="694" fill="#474a55" textLength="41" lengthAdjust="spacingAndGlyphs">RSI (14)</text><text x="57" y="694" fill="#7e57c2" textLength="30" lengthAdjust="spacingAndGlyphs">46.24</text>
<text x="9" y="869.5" fill="#474a55" textLength="125" lengthAdjust="spacingAndGlyphs">MACD (12, 26, close, 9)</text><text x="142.5" y="869.5" fill="#ff5252" textLength="45" lengthAdjust="spacingAndGlyphs">-0.02571</text><text x="196" y="869.5" fill="#2196f3" textLength="46" lengthAdjust="spacingAndGlyphs">-0.08379</text><text x="250" y="869.5" fill="#ff6d00" textLength="46" lengthAdjust="spacingAndGlyphs">-0.05808</text>
</svg>
</body></html>
